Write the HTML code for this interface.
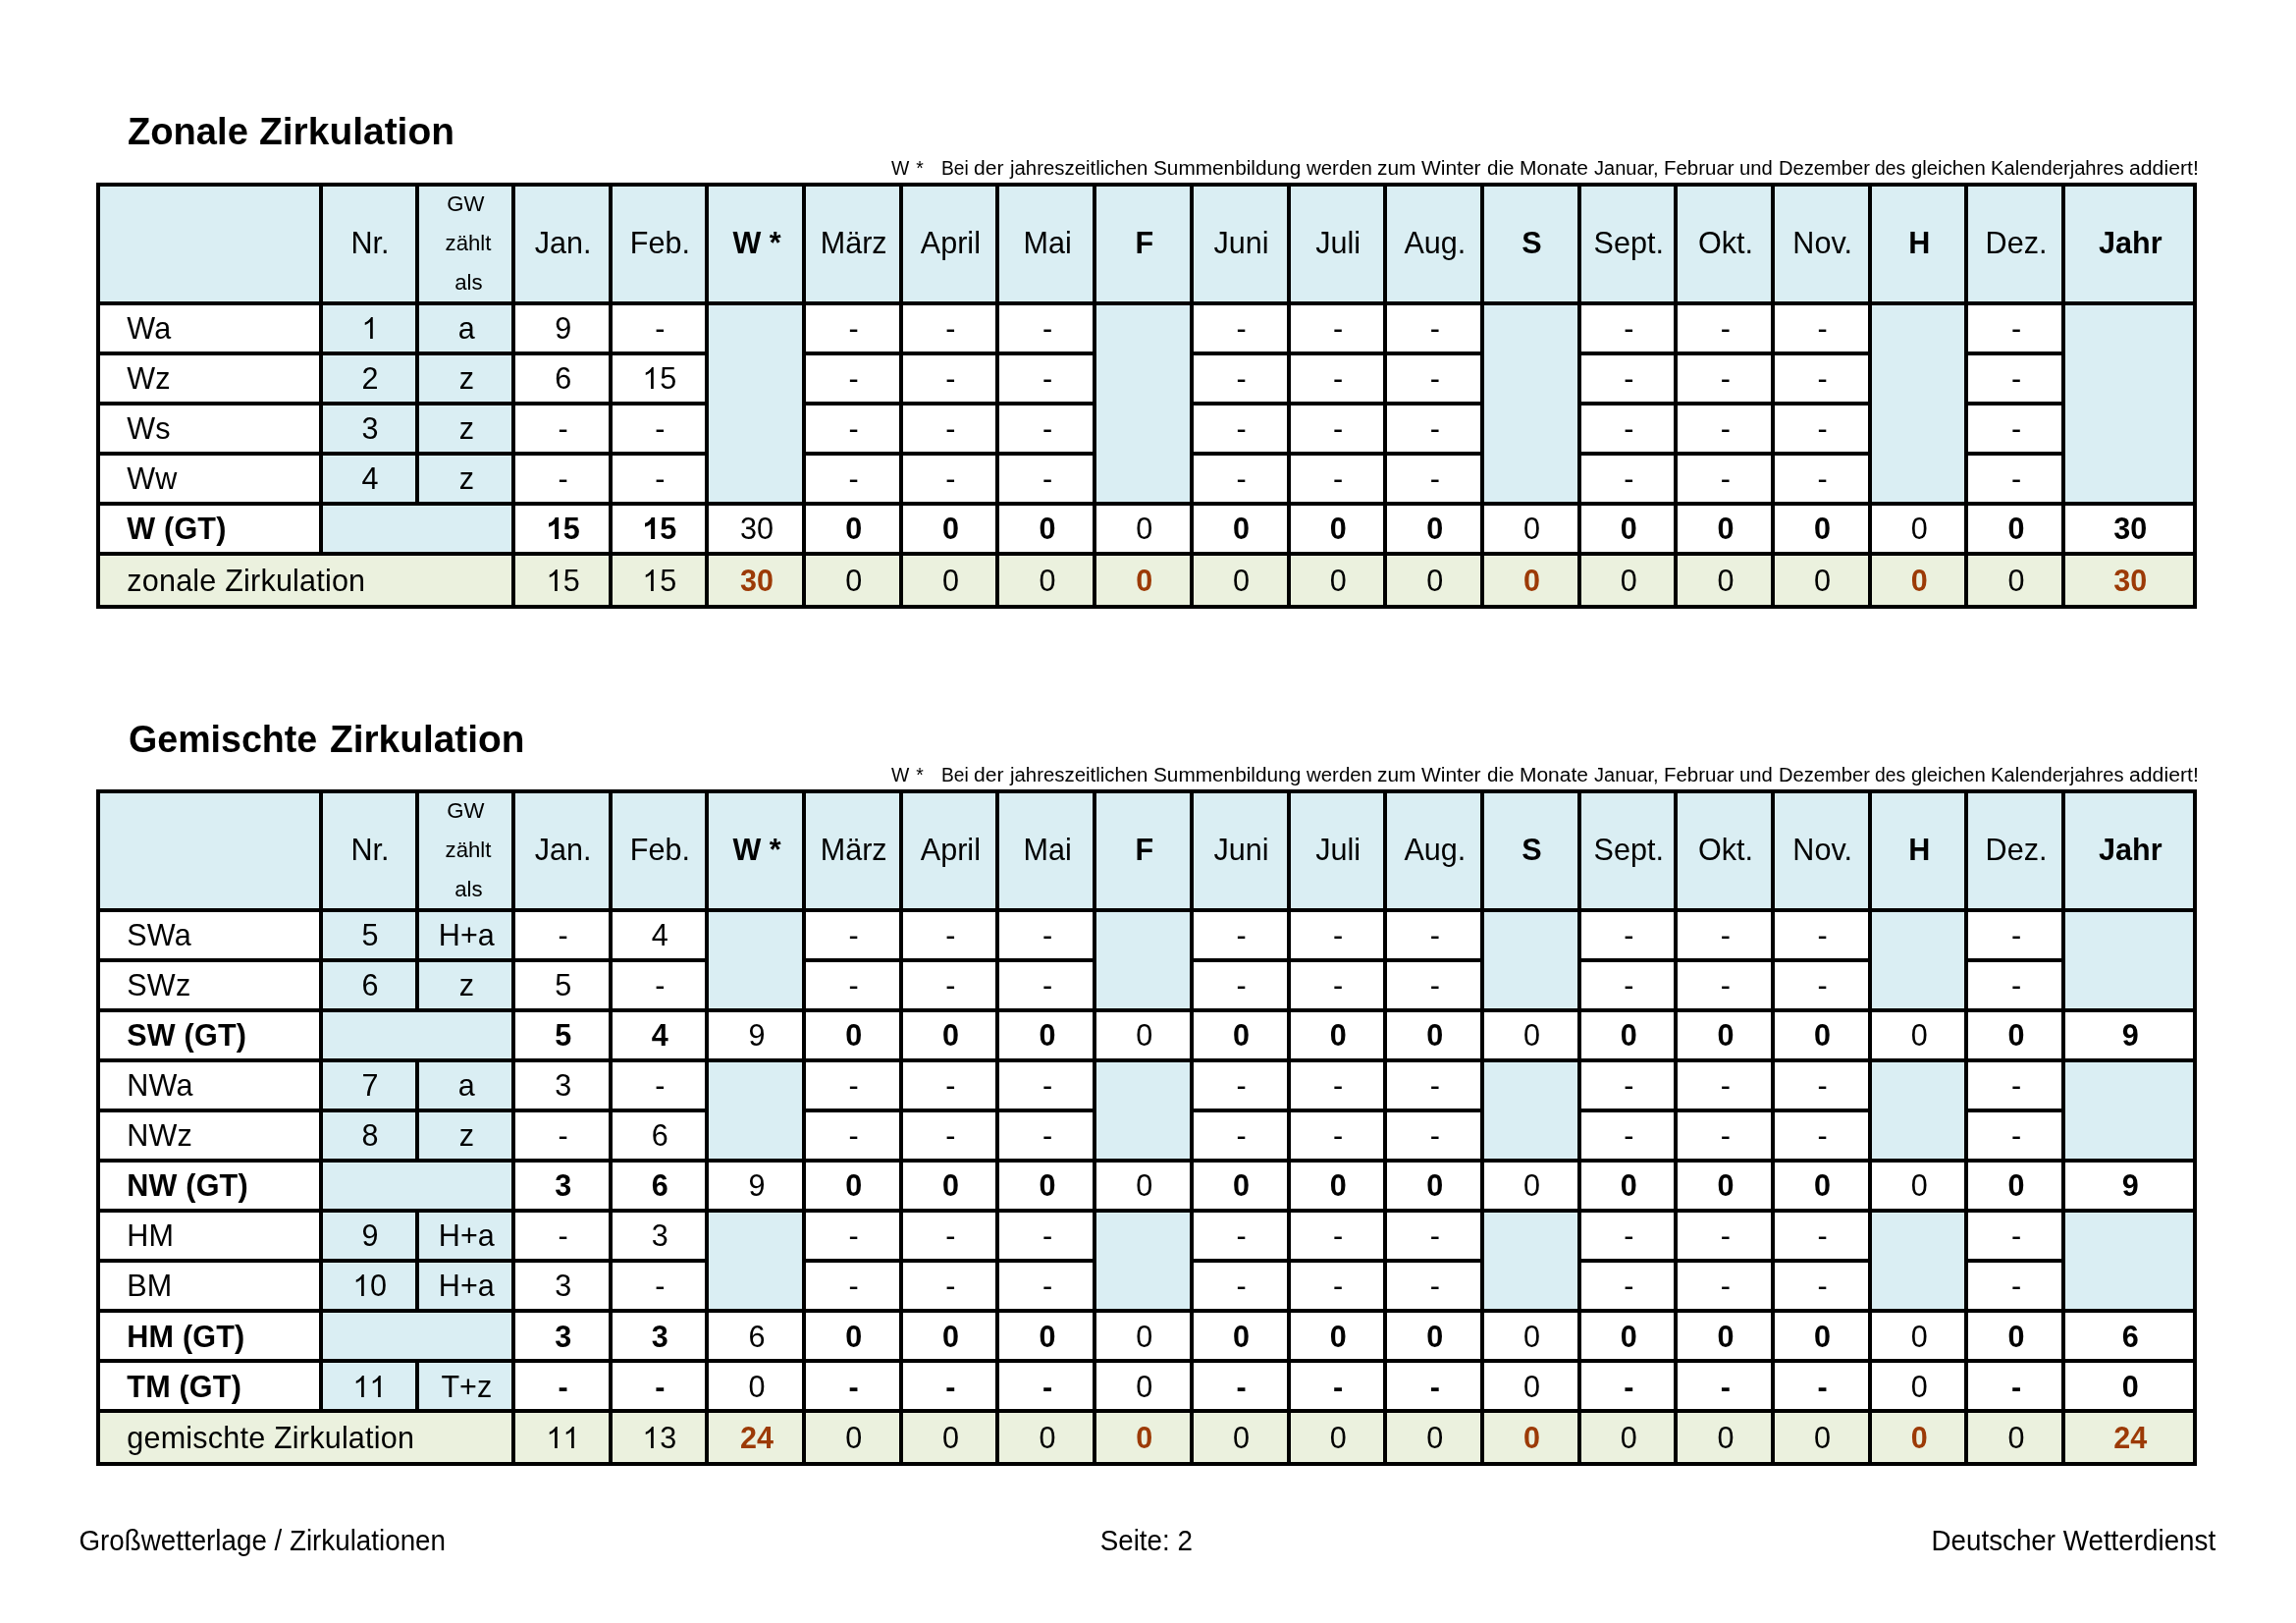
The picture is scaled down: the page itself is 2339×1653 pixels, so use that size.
<!DOCTYPE html>
<html><head><meta charset="utf-8"><title>Großwetterlage / Zirkulationen</title>
<style>
html,body{margin:0;padding:0;background:#fff;}
body{width:2339px;height:1653px;position:relative;overflow:hidden;font-family:"Liberation Sans",sans-serif;color:#000;--nsx:1.0;}
body>div{position:absolute;}
#tx{left:0;top:0;width:2339px;height:1653px;will-change:transform;}
#tx>div{position:absolute;}
.t{white-space:nowrap;}
</style></head><body>
<div style="left:98.00px;top:186.00px;width:230.50px;height:125.00px;background:#DAEEF3"></div>
<div style="left:324.50px;top:186.00px;width:102.50px;height:125.00px;background:#DAEEF3"></div>
<div style="left:423.00px;top:186.00px;width:102.00px;height:125.00px;background:#DAEEF3"></div>
<div style="left:521.00px;top:186.00px;width:102.69px;height:125.00px;background:#DAEEF3"></div>
<div style="left:619.69px;top:186.00px;width:102.69px;height:125.00px;background:#DAEEF3"></div>
<div style="left:718.38px;top:186.00px;width:102.69px;height:125.00px;background:#DAEEF3"></div>
<div style="left:817.07px;top:186.00px;width:102.69px;height:125.00px;background:#DAEEF3"></div>
<div style="left:915.76px;top:186.00px;width:102.69px;height:125.00px;background:#DAEEF3"></div>
<div style="left:1014.45px;top:186.00px;width:102.69px;height:125.00px;background:#DAEEF3"></div>
<div style="left:1113.14px;top:186.00px;width:102.69px;height:125.00px;background:#DAEEF3"></div>
<div style="left:1211.83px;top:186.00px;width:102.69px;height:125.00px;background:#DAEEF3"></div>
<div style="left:1310.52px;top:186.00px;width:102.69px;height:125.00px;background:#DAEEF3"></div>
<div style="left:1409.21px;top:186.00px;width:102.69px;height:125.00px;background:#DAEEF3"></div>
<div style="left:1507.90px;top:186.00px;width:102.69px;height:125.00px;background:#DAEEF3"></div>
<div style="left:1606.59px;top:186.00px;width:102.69px;height:125.00px;background:#DAEEF3"></div>
<div style="left:1705.28px;top:186.00px;width:102.69px;height:125.00px;background:#DAEEF3"></div>
<div style="left:1803.97px;top:186.00px;width:102.69px;height:125.00px;background:#DAEEF3"></div>
<div style="left:1902.66px;top:186.00px;width:102.69px;height:125.00px;background:#DAEEF3"></div>
<div style="left:2001.35px;top:186.00px;width:102.69px;height:125.00px;background:#DAEEF3"></div>
<div style="left:2100.04px;top:186.00px;width:137.96px;height:125.00px;background:#DAEEF3"></div>
<div style="left:324.50px;top:307.00px;width:102.50px;height:55.00px;background:#DAEEF3"></div>
<div style="left:423.00px;top:307.00px;width:102.00px;height:55.00px;background:#DAEEF3"></div>
<div style="left:718.38px;top:307.00px;width:102.69px;height:55.00px;background:#DAEEF3"></div>
<div style="left:1113.14px;top:307.00px;width:102.69px;height:55.00px;background:#DAEEF3"></div>
<div style="left:1507.90px;top:307.00px;width:102.69px;height:55.00px;background:#DAEEF3"></div>
<div style="left:1902.66px;top:307.00px;width:102.69px;height:55.00px;background:#DAEEF3"></div>
<div style="left:2100.04px;top:307.00px;width:137.96px;height:55.00px;background:#DAEEF3"></div>
<div style="left:324.50px;top:358.00px;width:102.50px;height:55.00px;background:#DAEEF3"></div>
<div style="left:423.00px;top:358.00px;width:102.00px;height:55.00px;background:#DAEEF3"></div>
<div style="left:718.38px;top:358.00px;width:102.69px;height:55.00px;background:#DAEEF3"></div>
<div style="left:1113.14px;top:358.00px;width:102.69px;height:55.00px;background:#DAEEF3"></div>
<div style="left:1507.90px;top:358.00px;width:102.69px;height:55.00px;background:#DAEEF3"></div>
<div style="left:1902.66px;top:358.00px;width:102.69px;height:55.00px;background:#DAEEF3"></div>
<div style="left:2100.04px;top:358.00px;width:137.96px;height:55.00px;background:#DAEEF3"></div>
<div style="left:324.50px;top:409.00px;width:102.50px;height:55.00px;background:#DAEEF3"></div>
<div style="left:423.00px;top:409.00px;width:102.00px;height:55.00px;background:#DAEEF3"></div>
<div style="left:718.38px;top:409.00px;width:102.69px;height:55.00px;background:#DAEEF3"></div>
<div style="left:1113.14px;top:409.00px;width:102.69px;height:55.00px;background:#DAEEF3"></div>
<div style="left:1507.90px;top:409.00px;width:102.69px;height:55.00px;background:#DAEEF3"></div>
<div style="left:1902.66px;top:409.00px;width:102.69px;height:55.00px;background:#DAEEF3"></div>
<div style="left:2100.04px;top:409.00px;width:137.96px;height:55.00px;background:#DAEEF3"></div>
<div style="left:324.50px;top:460.00px;width:102.50px;height:55.00px;background:#DAEEF3"></div>
<div style="left:423.00px;top:460.00px;width:102.00px;height:55.00px;background:#DAEEF3"></div>
<div style="left:718.38px;top:460.00px;width:102.69px;height:55.00px;background:#DAEEF3"></div>
<div style="left:1113.14px;top:460.00px;width:102.69px;height:55.00px;background:#DAEEF3"></div>
<div style="left:1507.90px;top:460.00px;width:102.69px;height:55.00px;background:#DAEEF3"></div>
<div style="left:1902.66px;top:460.00px;width:102.69px;height:55.00px;background:#DAEEF3"></div>
<div style="left:2100.04px;top:460.00px;width:137.96px;height:55.00px;background:#DAEEF3"></div>
<div style="left:324.50px;top:511.00px;width:102.50px;height:55.00px;background:#DAEEF3"></div>
<div style="left:423.00px;top:511.00px;width:102.00px;height:55.00px;background:#DAEEF3"></div>
<div style="left:98.00px;top:562.00px;width:230.50px;height:58.00px;background:#EBF1DE"></div>
<div style="left:324.50px;top:562.00px;width:102.50px;height:58.00px;background:#EBF1DE"></div>
<div style="left:423.00px;top:562.00px;width:102.00px;height:58.00px;background:#EBF1DE"></div>
<div style="left:521.00px;top:562.00px;width:102.69px;height:58.00px;background:#EBF1DE"></div>
<div style="left:619.69px;top:562.00px;width:102.69px;height:58.00px;background:#EBF1DE"></div>
<div style="left:718.38px;top:562.00px;width:102.69px;height:58.00px;background:#EBF1DE"></div>
<div style="left:817.07px;top:562.00px;width:102.69px;height:58.00px;background:#EBF1DE"></div>
<div style="left:915.76px;top:562.00px;width:102.69px;height:58.00px;background:#EBF1DE"></div>
<div style="left:1014.45px;top:562.00px;width:102.69px;height:58.00px;background:#EBF1DE"></div>
<div style="left:1113.14px;top:562.00px;width:102.69px;height:58.00px;background:#EBF1DE"></div>
<div style="left:1211.83px;top:562.00px;width:102.69px;height:58.00px;background:#EBF1DE"></div>
<div style="left:1310.52px;top:562.00px;width:102.69px;height:58.00px;background:#EBF1DE"></div>
<div style="left:1409.21px;top:562.00px;width:102.69px;height:58.00px;background:#EBF1DE"></div>
<div style="left:1507.90px;top:562.00px;width:102.69px;height:58.00px;background:#EBF1DE"></div>
<div style="left:1606.59px;top:562.00px;width:102.69px;height:58.00px;background:#EBF1DE"></div>
<div style="left:1705.28px;top:562.00px;width:102.69px;height:58.00px;background:#EBF1DE"></div>
<div style="left:1803.97px;top:562.00px;width:102.69px;height:58.00px;background:#EBF1DE"></div>
<div style="left:1902.66px;top:562.00px;width:102.69px;height:58.00px;background:#EBF1DE"></div>
<div style="left:2001.35px;top:562.00px;width:102.69px;height:58.00px;background:#EBF1DE"></div>
<div style="left:2100.04px;top:562.00px;width:137.96px;height:58.00px;background:#EBF1DE"></div>
<div style="left:98.00px;top:186.00px;width:230.50px;height:4.00px;background:#000"></div>
<div style="left:324.50px;top:186.00px;width:102.50px;height:4.00px;background:#000"></div>
<div style="left:423.00px;top:186.00px;width:102.00px;height:4.00px;background:#000"></div>
<div style="left:521.00px;top:186.00px;width:102.69px;height:4.00px;background:#000"></div>
<div style="left:619.69px;top:186.00px;width:102.69px;height:4.00px;background:#000"></div>
<div style="left:718.38px;top:186.00px;width:102.69px;height:4.00px;background:#000"></div>
<div style="left:817.07px;top:186.00px;width:102.69px;height:4.00px;background:#000"></div>
<div style="left:915.76px;top:186.00px;width:102.69px;height:4.00px;background:#000"></div>
<div style="left:1014.45px;top:186.00px;width:102.69px;height:4.00px;background:#000"></div>
<div style="left:1113.14px;top:186.00px;width:102.69px;height:4.00px;background:#000"></div>
<div style="left:1211.83px;top:186.00px;width:102.69px;height:4.00px;background:#000"></div>
<div style="left:1310.52px;top:186.00px;width:102.69px;height:4.00px;background:#000"></div>
<div style="left:1409.21px;top:186.00px;width:102.69px;height:4.00px;background:#000"></div>
<div style="left:1507.90px;top:186.00px;width:102.69px;height:4.00px;background:#000"></div>
<div style="left:1606.59px;top:186.00px;width:102.69px;height:4.00px;background:#000"></div>
<div style="left:1705.28px;top:186.00px;width:102.69px;height:4.00px;background:#000"></div>
<div style="left:1803.97px;top:186.00px;width:102.69px;height:4.00px;background:#000"></div>
<div style="left:1902.66px;top:186.00px;width:102.69px;height:4.00px;background:#000"></div>
<div style="left:2001.35px;top:186.00px;width:102.69px;height:4.00px;background:#000"></div>
<div style="left:2100.04px;top:186.00px;width:137.96px;height:4.00px;background:#000"></div>
<div style="left:98.00px;top:307.00px;width:230.50px;height:4.00px;background:#000"></div>
<div style="left:324.50px;top:307.00px;width:102.50px;height:4.00px;background:#000"></div>
<div style="left:423.00px;top:307.00px;width:102.00px;height:4.00px;background:#000"></div>
<div style="left:521.00px;top:307.00px;width:102.69px;height:4.00px;background:#000"></div>
<div style="left:619.69px;top:307.00px;width:102.69px;height:4.00px;background:#000"></div>
<div style="left:718.38px;top:307.00px;width:102.69px;height:4.00px;background:#000"></div>
<div style="left:817.07px;top:307.00px;width:102.69px;height:4.00px;background:#000"></div>
<div style="left:915.76px;top:307.00px;width:102.69px;height:4.00px;background:#000"></div>
<div style="left:1014.45px;top:307.00px;width:102.69px;height:4.00px;background:#000"></div>
<div style="left:1113.14px;top:307.00px;width:102.69px;height:4.00px;background:#000"></div>
<div style="left:1211.83px;top:307.00px;width:102.69px;height:4.00px;background:#000"></div>
<div style="left:1310.52px;top:307.00px;width:102.69px;height:4.00px;background:#000"></div>
<div style="left:1409.21px;top:307.00px;width:102.69px;height:4.00px;background:#000"></div>
<div style="left:1507.90px;top:307.00px;width:102.69px;height:4.00px;background:#000"></div>
<div style="left:1606.59px;top:307.00px;width:102.69px;height:4.00px;background:#000"></div>
<div style="left:1705.28px;top:307.00px;width:102.69px;height:4.00px;background:#000"></div>
<div style="left:1803.97px;top:307.00px;width:102.69px;height:4.00px;background:#000"></div>
<div style="left:1902.66px;top:307.00px;width:102.69px;height:4.00px;background:#000"></div>
<div style="left:2001.35px;top:307.00px;width:102.69px;height:4.00px;background:#000"></div>
<div style="left:2100.04px;top:307.00px;width:137.96px;height:4.00px;background:#000"></div>
<div style="left:98.00px;top:358.00px;width:230.50px;height:4.00px;background:#000"></div>
<div style="left:324.50px;top:358.00px;width:102.50px;height:4.00px;background:#000"></div>
<div style="left:423.00px;top:358.00px;width:102.00px;height:4.00px;background:#000"></div>
<div style="left:521.00px;top:358.00px;width:102.69px;height:4.00px;background:#000"></div>
<div style="left:619.69px;top:358.00px;width:102.69px;height:4.00px;background:#000"></div>
<div style="left:817.07px;top:358.00px;width:102.69px;height:4.00px;background:#000"></div>
<div style="left:915.76px;top:358.00px;width:102.69px;height:4.00px;background:#000"></div>
<div style="left:1014.45px;top:358.00px;width:102.69px;height:4.00px;background:#000"></div>
<div style="left:1211.83px;top:358.00px;width:102.69px;height:4.00px;background:#000"></div>
<div style="left:1310.52px;top:358.00px;width:102.69px;height:4.00px;background:#000"></div>
<div style="left:1409.21px;top:358.00px;width:102.69px;height:4.00px;background:#000"></div>
<div style="left:1606.59px;top:358.00px;width:102.69px;height:4.00px;background:#000"></div>
<div style="left:1705.28px;top:358.00px;width:102.69px;height:4.00px;background:#000"></div>
<div style="left:1803.97px;top:358.00px;width:102.69px;height:4.00px;background:#000"></div>
<div style="left:2001.35px;top:358.00px;width:102.69px;height:4.00px;background:#000"></div>
<div style="left:98.00px;top:409.00px;width:230.50px;height:4.00px;background:#000"></div>
<div style="left:324.50px;top:409.00px;width:102.50px;height:4.00px;background:#000"></div>
<div style="left:423.00px;top:409.00px;width:102.00px;height:4.00px;background:#000"></div>
<div style="left:521.00px;top:409.00px;width:102.69px;height:4.00px;background:#000"></div>
<div style="left:619.69px;top:409.00px;width:102.69px;height:4.00px;background:#000"></div>
<div style="left:817.07px;top:409.00px;width:102.69px;height:4.00px;background:#000"></div>
<div style="left:915.76px;top:409.00px;width:102.69px;height:4.00px;background:#000"></div>
<div style="left:1014.45px;top:409.00px;width:102.69px;height:4.00px;background:#000"></div>
<div style="left:1211.83px;top:409.00px;width:102.69px;height:4.00px;background:#000"></div>
<div style="left:1310.52px;top:409.00px;width:102.69px;height:4.00px;background:#000"></div>
<div style="left:1409.21px;top:409.00px;width:102.69px;height:4.00px;background:#000"></div>
<div style="left:1606.59px;top:409.00px;width:102.69px;height:4.00px;background:#000"></div>
<div style="left:1705.28px;top:409.00px;width:102.69px;height:4.00px;background:#000"></div>
<div style="left:1803.97px;top:409.00px;width:102.69px;height:4.00px;background:#000"></div>
<div style="left:2001.35px;top:409.00px;width:102.69px;height:4.00px;background:#000"></div>
<div style="left:98.00px;top:460.00px;width:230.50px;height:4.00px;background:#000"></div>
<div style="left:324.50px;top:460.00px;width:102.50px;height:4.00px;background:#000"></div>
<div style="left:423.00px;top:460.00px;width:102.00px;height:4.00px;background:#000"></div>
<div style="left:521.00px;top:460.00px;width:102.69px;height:4.00px;background:#000"></div>
<div style="left:619.69px;top:460.00px;width:102.69px;height:4.00px;background:#000"></div>
<div style="left:817.07px;top:460.00px;width:102.69px;height:4.00px;background:#000"></div>
<div style="left:915.76px;top:460.00px;width:102.69px;height:4.00px;background:#000"></div>
<div style="left:1014.45px;top:460.00px;width:102.69px;height:4.00px;background:#000"></div>
<div style="left:1211.83px;top:460.00px;width:102.69px;height:4.00px;background:#000"></div>
<div style="left:1310.52px;top:460.00px;width:102.69px;height:4.00px;background:#000"></div>
<div style="left:1409.21px;top:460.00px;width:102.69px;height:4.00px;background:#000"></div>
<div style="left:1606.59px;top:460.00px;width:102.69px;height:4.00px;background:#000"></div>
<div style="left:1705.28px;top:460.00px;width:102.69px;height:4.00px;background:#000"></div>
<div style="left:1803.97px;top:460.00px;width:102.69px;height:4.00px;background:#000"></div>
<div style="left:2001.35px;top:460.00px;width:102.69px;height:4.00px;background:#000"></div>
<div style="left:98.00px;top:511.00px;width:230.50px;height:4.00px;background:#000"></div>
<div style="left:324.50px;top:511.00px;width:102.50px;height:4.00px;background:#000"></div>
<div style="left:423.00px;top:511.00px;width:102.00px;height:4.00px;background:#000"></div>
<div style="left:521.00px;top:511.00px;width:102.69px;height:4.00px;background:#000"></div>
<div style="left:619.69px;top:511.00px;width:102.69px;height:4.00px;background:#000"></div>
<div style="left:718.38px;top:511.00px;width:102.69px;height:4.00px;background:#000"></div>
<div style="left:817.07px;top:511.00px;width:102.69px;height:4.00px;background:#000"></div>
<div style="left:915.76px;top:511.00px;width:102.69px;height:4.00px;background:#000"></div>
<div style="left:1014.45px;top:511.00px;width:102.69px;height:4.00px;background:#000"></div>
<div style="left:1113.14px;top:511.00px;width:102.69px;height:4.00px;background:#000"></div>
<div style="left:1211.83px;top:511.00px;width:102.69px;height:4.00px;background:#000"></div>
<div style="left:1310.52px;top:511.00px;width:102.69px;height:4.00px;background:#000"></div>
<div style="left:1409.21px;top:511.00px;width:102.69px;height:4.00px;background:#000"></div>
<div style="left:1507.90px;top:511.00px;width:102.69px;height:4.00px;background:#000"></div>
<div style="left:1606.59px;top:511.00px;width:102.69px;height:4.00px;background:#000"></div>
<div style="left:1705.28px;top:511.00px;width:102.69px;height:4.00px;background:#000"></div>
<div style="left:1803.97px;top:511.00px;width:102.69px;height:4.00px;background:#000"></div>
<div style="left:1902.66px;top:511.00px;width:102.69px;height:4.00px;background:#000"></div>
<div style="left:2001.35px;top:511.00px;width:102.69px;height:4.00px;background:#000"></div>
<div style="left:2100.04px;top:511.00px;width:137.96px;height:4.00px;background:#000"></div>
<div style="left:98.00px;top:562.00px;width:230.50px;height:4.00px;background:#000"></div>
<div style="left:324.50px;top:562.00px;width:102.50px;height:4.00px;background:#000"></div>
<div style="left:423.00px;top:562.00px;width:102.00px;height:4.00px;background:#000"></div>
<div style="left:521.00px;top:562.00px;width:102.69px;height:4.00px;background:#000"></div>
<div style="left:619.69px;top:562.00px;width:102.69px;height:4.00px;background:#000"></div>
<div style="left:718.38px;top:562.00px;width:102.69px;height:4.00px;background:#000"></div>
<div style="left:817.07px;top:562.00px;width:102.69px;height:4.00px;background:#000"></div>
<div style="left:915.76px;top:562.00px;width:102.69px;height:4.00px;background:#000"></div>
<div style="left:1014.45px;top:562.00px;width:102.69px;height:4.00px;background:#000"></div>
<div style="left:1113.14px;top:562.00px;width:102.69px;height:4.00px;background:#000"></div>
<div style="left:1211.83px;top:562.00px;width:102.69px;height:4.00px;background:#000"></div>
<div style="left:1310.52px;top:562.00px;width:102.69px;height:4.00px;background:#000"></div>
<div style="left:1409.21px;top:562.00px;width:102.69px;height:4.00px;background:#000"></div>
<div style="left:1507.90px;top:562.00px;width:102.69px;height:4.00px;background:#000"></div>
<div style="left:1606.59px;top:562.00px;width:102.69px;height:4.00px;background:#000"></div>
<div style="left:1705.28px;top:562.00px;width:102.69px;height:4.00px;background:#000"></div>
<div style="left:1803.97px;top:562.00px;width:102.69px;height:4.00px;background:#000"></div>
<div style="left:1902.66px;top:562.00px;width:102.69px;height:4.00px;background:#000"></div>
<div style="left:2001.35px;top:562.00px;width:102.69px;height:4.00px;background:#000"></div>
<div style="left:2100.04px;top:562.00px;width:137.96px;height:4.00px;background:#000"></div>
<div style="left:98.00px;top:616.00px;width:230.50px;height:4.00px;background:#000"></div>
<div style="left:324.50px;top:616.00px;width:102.50px;height:4.00px;background:#000"></div>
<div style="left:423.00px;top:616.00px;width:102.00px;height:4.00px;background:#000"></div>
<div style="left:521.00px;top:616.00px;width:102.69px;height:4.00px;background:#000"></div>
<div style="left:619.69px;top:616.00px;width:102.69px;height:4.00px;background:#000"></div>
<div style="left:718.38px;top:616.00px;width:102.69px;height:4.00px;background:#000"></div>
<div style="left:817.07px;top:616.00px;width:102.69px;height:4.00px;background:#000"></div>
<div style="left:915.76px;top:616.00px;width:102.69px;height:4.00px;background:#000"></div>
<div style="left:1014.45px;top:616.00px;width:102.69px;height:4.00px;background:#000"></div>
<div style="left:1113.14px;top:616.00px;width:102.69px;height:4.00px;background:#000"></div>
<div style="left:1211.83px;top:616.00px;width:102.69px;height:4.00px;background:#000"></div>
<div style="left:1310.52px;top:616.00px;width:102.69px;height:4.00px;background:#000"></div>
<div style="left:1409.21px;top:616.00px;width:102.69px;height:4.00px;background:#000"></div>
<div style="left:1507.90px;top:616.00px;width:102.69px;height:4.00px;background:#000"></div>
<div style="left:1606.59px;top:616.00px;width:102.69px;height:4.00px;background:#000"></div>
<div style="left:1705.28px;top:616.00px;width:102.69px;height:4.00px;background:#000"></div>
<div style="left:1803.97px;top:616.00px;width:102.69px;height:4.00px;background:#000"></div>
<div style="left:1902.66px;top:616.00px;width:102.69px;height:4.00px;background:#000"></div>
<div style="left:2001.35px;top:616.00px;width:102.69px;height:4.00px;background:#000"></div>
<div style="left:2100.04px;top:616.00px;width:137.96px;height:4.00px;background:#000"></div>
<div style="left:98.00px;top:186.00px;width:4.00px;height:125.00px;background:#000"></div>
<div style="left:324.50px;top:186.00px;width:4.00px;height:125.00px;background:#000"></div>
<div style="left:423.00px;top:186.00px;width:4.00px;height:125.00px;background:#000"></div>
<div style="left:521.00px;top:186.00px;width:4.00px;height:125.00px;background:#000"></div>
<div style="left:619.69px;top:186.00px;width:4.00px;height:125.00px;background:#000"></div>
<div style="left:718.38px;top:186.00px;width:4.00px;height:125.00px;background:#000"></div>
<div style="left:817.07px;top:186.00px;width:4.00px;height:125.00px;background:#000"></div>
<div style="left:915.76px;top:186.00px;width:4.00px;height:125.00px;background:#000"></div>
<div style="left:1014.45px;top:186.00px;width:4.00px;height:125.00px;background:#000"></div>
<div style="left:1113.14px;top:186.00px;width:4.00px;height:125.00px;background:#000"></div>
<div style="left:1211.83px;top:186.00px;width:4.00px;height:125.00px;background:#000"></div>
<div style="left:1310.52px;top:186.00px;width:4.00px;height:125.00px;background:#000"></div>
<div style="left:1409.21px;top:186.00px;width:4.00px;height:125.00px;background:#000"></div>
<div style="left:1507.90px;top:186.00px;width:4.00px;height:125.00px;background:#000"></div>
<div style="left:1606.59px;top:186.00px;width:4.00px;height:125.00px;background:#000"></div>
<div style="left:1705.28px;top:186.00px;width:4.00px;height:125.00px;background:#000"></div>
<div style="left:1803.97px;top:186.00px;width:4.00px;height:125.00px;background:#000"></div>
<div style="left:1902.66px;top:186.00px;width:4.00px;height:125.00px;background:#000"></div>
<div style="left:2001.35px;top:186.00px;width:4.00px;height:125.00px;background:#000"></div>
<div style="left:2100.04px;top:186.00px;width:4.00px;height:125.00px;background:#000"></div>
<div style="left:2234.00px;top:186.00px;width:4.00px;height:125.00px;background:#000"></div>
<div style="left:98.00px;top:307.00px;width:4.00px;height:55.00px;background:#000"></div>
<div style="left:324.50px;top:307.00px;width:4.00px;height:55.00px;background:#000"></div>
<div style="left:423.00px;top:307.00px;width:4.00px;height:55.00px;background:#000"></div>
<div style="left:521.00px;top:307.00px;width:4.00px;height:55.00px;background:#000"></div>
<div style="left:619.69px;top:307.00px;width:4.00px;height:55.00px;background:#000"></div>
<div style="left:718.38px;top:307.00px;width:4.00px;height:55.00px;background:#000"></div>
<div style="left:817.07px;top:307.00px;width:4.00px;height:55.00px;background:#000"></div>
<div style="left:915.76px;top:307.00px;width:4.00px;height:55.00px;background:#000"></div>
<div style="left:1014.45px;top:307.00px;width:4.00px;height:55.00px;background:#000"></div>
<div style="left:1113.14px;top:307.00px;width:4.00px;height:55.00px;background:#000"></div>
<div style="left:1211.83px;top:307.00px;width:4.00px;height:55.00px;background:#000"></div>
<div style="left:1310.52px;top:307.00px;width:4.00px;height:55.00px;background:#000"></div>
<div style="left:1409.21px;top:307.00px;width:4.00px;height:55.00px;background:#000"></div>
<div style="left:1507.90px;top:307.00px;width:4.00px;height:55.00px;background:#000"></div>
<div style="left:1606.59px;top:307.00px;width:4.00px;height:55.00px;background:#000"></div>
<div style="left:1705.28px;top:307.00px;width:4.00px;height:55.00px;background:#000"></div>
<div style="left:1803.97px;top:307.00px;width:4.00px;height:55.00px;background:#000"></div>
<div style="left:1902.66px;top:307.00px;width:4.00px;height:55.00px;background:#000"></div>
<div style="left:2001.35px;top:307.00px;width:4.00px;height:55.00px;background:#000"></div>
<div style="left:2100.04px;top:307.00px;width:4.00px;height:55.00px;background:#000"></div>
<div style="left:2234.00px;top:307.00px;width:4.00px;height:55.00px;background:#000"></div>
<div style="left:98.00px;top:358.00px;width:4.00px;height:55.00px;background:#000"></div>
<div style="left:324.50px;top:358.00px;width:4.00px;height:55.00px;background:#000"></div>
<div style="left:423.00px;top:358.00px;width:4.00px;height:55.00px;background:#000"></div>
<div style="left:521.00px;top:358.00px;width:4.00px;height:55.00px;background:#000"></div>
<div style="left:619.69px;top:358.00px;width:4.00px;height:55.00px;background:#000"></div>
<div style="left:718.38px;top:358.00px;width:4.00px;height:55.00px;background:#000"></div>
<div style="left:817.07px;top:358.00px;width:4.00px;height:55.00px;background:#000"></div>
<div style="left:915.76px;top:358.00px;width:4.00px;height:55.00px;background:#000"></div>
<div style="left:1014.45px;top:358.00px;width:4.00px;height:55.00px;background:#000"></div>
<div style="left:1113.14px;top:358.00px;width:4.00px;height:55.00px;background:#000"></div>
<div style="left:1211.83px;top:358.00px;width:4.00px;height:55.00px;background:#000"></div>
<div style="left:1310.52px;top:358.00px;width:4.00px;height:55.00px;background:#000"></div>
<div style="left:1409.21px;top:358.00px;width:4.00px;height:55.00px;background:#000"></div>
<div style="left:1507.90px;top:358.00px;width:4.00px;height:55.00px;background:#000"></div>
<div style="left:1606.59px;top:358.00px;width:4.00px;height:55.00px;background:#000"></div>
<div style="left:1705.28px;top:358.00px;width:4.00px;height:55.00px;background:#000"></div>
<div style="left:1803.97px;top:358.00px;width:4.00px;height:55.00px;background:#000"></div>
<div style="left:1902.66px;top:358.00px;width:4.00px;height:55.00px;background:#000"></div>
<div style="left:2001.35px;top:358.00px;width:4.00px;height:55.00px;background:#000"></div>
<div style="left:2100.04px;top:358.00px;width:4.00px;height:55.00px;background:#000"></div>
<div style="left:2234.00px;top:358.00px;width:4.00px;height:55.00px;background:#000"></div>
<div style="left:98.00px;top:409.00px;width:4.00px;height:55.00px;background:#000"></div>
<div style="left:324.50px;top:409.00px;width:4.00px;height:55.00px;background:#000"></div>
<div style="left:423.00px;top:409.00px;width:4.00px;height:55.00px;background:#000"></div>
<div style="left:521.00px;top:409.00px;width:4.00px;height:55.00px;background:#000"></div>
<div style="left:619.69px;top:409.00px;width:4.00px;height:55.00px;background:#000"></div>
<div style="left:718.38px;top:409.00px;width:4.00px;height:55.00px;background:#000"></div>
<div style="left:817.07px;top:409.00px;width:4.00px;height:55.00px;background:#000"></div>
<div style="left:915.76px;top:409.00px;width:4.00px;height:55.00px;background:#000"></div>
<div style="left:1014.45px;top:409.00px;width:4.00px;height:55.00px;background:#000"></div>
<div style="left:1113.14px;top:409.00px;width:4.00px;height:55.00px;background:#000"></div>
<div style="left:1211.83px;top:409.00px;width:4.00px;height:55.00px;background:#000"></div>
<div style="left:1310.52px;top:409.00px;width:4.00px;height:55.00px;background:#000"></div>
<div style="left:1409.21px;top:409.00px;width:4.00px;height:55.00px;background:#000"></div>
<div style="left:1507.90px;top:409.00px;width:4.00px;height:55.00px;background:#000"></div>
<div style="left:1606.59px;top:409.00px;width:4.00px;height:55.00px;background:#000"></div>
<div style="left:1705.28px;top:409.00px;width:4.00px;height:55.00px;background:#000"></div>
<div style="left:1803.97px;top:409.00px;width:4.00px;height:55.00px;background:#000"></div>
<div style="left:1902.66px;top:409.00px;width:4.00px;height:55.00px;background:#000"></div>
<div style="left:2001.35px;top:409.00px;width:4.00px;height:55.00px;background:#000"></div>
<div style="left:2100.04px;top:409.00px;width:4.00px;height:55.00px;background:#000"></div>
<div style="left:2234.00px;top:409.00px;width:4.00px;height:55.00px;background:#000"></div>
<div style="left:98.00px;top:460.00px;width:4.00px;height:55.00px;background:#000"></div>
<div style="left:324.50px;top:460.00px;width:4.00px;height:55.00px;background:#000"></div>
<div style="left:423.00px;top:460.00px;width:4.00px;height:55.00px;background:#000"></div>
<div style="left:521.00px;top:460.00px;width:4.00px;height:55.00px;background:#000"></div>
<div style="left:619.69px;top:460.00px;width:4.00px;height:55.00px;background:#000"></div>
<div style="left:718.38px;top:460.00px;width:4.00px;height:55.00px;background:#000"></div>
<div style="left:817.07px;top:460.00px;width:4.00px;height:55.00px;background:#000"></div>
<div style="left:915.76px;top:460.00px;width:4.00px;height:55.00px;background:#000"></div>
<div style="left:1014.45px;top:460.00px;width:4.00px;height:55.00px;background:#000"></div>
<div style="left:1113.14px;top:460.00px;width:4.00px;height:55.00px;background:#000"></div>
<div style="left:1211.83px;top:460.00px;width:4.00px;height:55.00px;background:#000"></div>
<div style="left:1310.52px;top:460.00px;width:4.00px;height:55.00px;background:#000"></div>
<div style="left:1409.21px;top:460.00px;width:4.00px;height:55.00px;background:#000"></div>
<div style="left:1507.90px;top:460.00px;width:4.00px;height:55.00px;background:#000"></div>
<div style="left:1606.59px;top:460.00px;width:4.00px;height:55.00px;background:#000"></div>
<div style="left:1705.28px;top:460.00px;width:4.00px;height:55.00px;background:#000"></div>
<div style="left:1803.97px;top:460.00px;width:4.00px;height:55.00px;background:#000"></div>
<div style="left:1902.66px;top:460.00px;width:4.00px;height:55.00px;background:#000"></div>
<div style="left:2001.35px;top:460.00px;width:4.00px;height:55.00px;background:#000"></div>
<div style="left:2100.04px;top:460.00px;width:4.00px;height:55.00px;background:#000"></div>
<div style="left:2234.00px;top:460.00px;width:4.00px;height:55.00px;background:#000"></div>
<div style="left:98.00px;top:511.00px;width:4.00px;height:55.00px;background:#000"></div>
<div style="left:324.50px;top:511.00px;width:4.00px;height:55.00px;background:#000"></div>
<div style="left:521.00px;top:511.00px;width:4.00px;height:55.00px;background:#000"></div>
<div style="left:619.69px;top:511.00px;width:4.00px;height:55.00px;background:#000"></div>
<div style="left:718.38px;top:511.00px;width:4.00px;height:55.00px;background:#000"></div>
<div style="left:817.07px;top:511.00px;width:4.00px;height:55.00px;background:#000"></div>
<div style="left:915.76px;top:511.00px;width:4.00px;height:55.00px;background:#000"></div>
<div style="left:1014.45px;top:511.00px;width:4.00px;height:55.00px;background:#000"></div>
<div style="left:1113.14px;top:511.00px;width:4.00px;height:55.00px;background:#000"></div>
<div style="left:1211.83px;top:511.00px;width:4.00px;height:55.00px;background:#000"></div>
<div style="left:1310.52px;top:511.00px;width:4.00px;height:55.00px;background:#000"></div>
<div style="left:1409.21px;top:511.00px;width:4.00px;height:55.00px;background:#000"></div>
<div style="left:1507.90px;top:511.00px;width:4.00px;height:55.00px;background:#000"></div>
<div style="left:1606.59px;top:511.00px;width:4.00px;height:55.00px;background:#000"></div>
<div style="left:1705.28px;top:511.00px;width:4.00px;height:55.00px;background:#000"></div>
<div style="left:1803.97px;top:511.00px;width:4.00px;height:55.00px;background:#000"></div>
<div style="left:1902.66px;top:511.00px;width:4.00px;height:55.00px;background:#000"></div>
<div style="left:2001.35px;top:511.00px;width:4.00px;height:55.00px;background:#000"></div>
<div style="left:2100.04px;top:511.00px;width:4.00px;height:55.00px;background:#000"></div>
<div style="left:2234.00px;top:511.00px;width:4.00px;height:55.00px;background:#000"></div>
<div style="left:98.00px;top:562.00px;width:4.00px;height:58.00px;background:#000"></div>
<div style="left:521.00px;top:562.00px;width:4.00px;height:58.00px;background:#000"></div>
<div style="left:619.69px;top:562.00px;width:4.00px;height:58.00px;background:#000"></div>
<div style="left:718.38px;top:562.00px;width:4.00px;height:58.00px;background:#000"></div>
<div style="left:817.07px;top:562.00px;width:4.00px;height:58.00px;background:#000"></div>
<div style="left:915.76px;top:562.00px;width:4.00px;height:58.00px;background:#000"></div>
<div style="left:1014.45px;top:562.00px;width:4.00px;height:58.00px;background:#000"></div>
<div style="left:1113.14px;top:562.00px;width:4.00px;height:58.00px;background:#000"></div>
<div style="left:1211.83px;top:562.00px;width:4.00px;height:58.00px;background:#000"></div>
<div style="left:1310.52px;top:562.00px;width:4.00px;height:58.00px;background:#000"></div>
<div style="left:1409.21px;top:562.00px;width:4.00px;height:58.00px;background:#000"></div>
<div style="left:1507.90px;top:562.00px;width:4.00px;height:58.00px;background:#000"></div>
<div style="left:1606.59px;top:562.00px;width:4.00px;height:58.00px;background:#000"></div>
<div style="left:1705.28px;top:562.00px;width:4.00px;height:58.00px;background:#000"></div>
<div style="left:1803.97px;top:562.00px;width:4.00px;height:58.00px;background:#000"></div>
<div style="left:1902.66px;top:562.00px;width:4.00px;height:58.00px;background:#000"></div>
<div style="left:2001.35px;top:562.00px;width:4.00px;height:58.00px;background:#000"></div>
<div style="left:2100.04px;top:562.00px;width:4.00px;height:58.00px;background:#000"></div>
<div style="left:2234.00px;top:562.00px;width:4.00px;height:58.00px;background:#000"></div>
<div style="left:98.00px;top:804.00px;width:230.50px;height:125.00px;background:#DAEEF3"></div>
<div style="left:324.50px;top:804.00px;width:102.50px;height:125.00px;background:#DAEEF3"></div>
<div style="left:423.00px;top:804.00px;width:102.00px;height:125.00px;background:#DAEEF3"></div>
<div style="left:521.00px;top:804.00px;width:102.69px;height:125.00px;background:#DAEEF3"></div>
<div style="left:619.69px;top:804.00px;width:102.69px;height:125.00px;background:#DAEEF3"></div>
<div style="left:718.38px;top:804.00px;width:102.69px;height:125.00px;background:#DAEEF3"></div>
<div style="left:817.07px;top:804.00px;width:102.69px;height:125.00px;background:#DAEEF3"></div>
<div style="left:915.76px;top:804.00px;width:102.69px;height:125.00px;background:#DAEEF3"></div>
<div style="left:1014.45px;top:804.00px;width:102.69px;height:125.00px;background:#DAEEF3"></div>
<div style="left:1113.14px;top:804.00px;width:102.69px;height:125.00px;background:#DAEEF3"></div>
<div style="left:1211.83px;top:804.00px;width:102.69px;height:125.00px;background:#DAEEF3"></div>
<div style="left:1310.52px;top:804.00px;width:102.69px;height:125.00px;background:#DAEEF3"></div>
<div style="left:1409.21px;top:804.00px;width:102.69px;height:125.00px;background:#DAEEF3"></div>
<div style="left:1507.90px;top:804.00px;width:102.69px;height:125.00px;background:#DAEEF3"></div>
<div style="left:1606.59px;top:804.00px;width:102.69px;height:125.00px;background:#DAEEF3"></div>
<div style="left:1705.28px;top:804.00px;width:102.69px;height:125.00px;background:#DAEEF3"></div>
<div style="left:1803.97px;top:804.00px;width:102.69px;height:125.00px;background:#DAEEF3"></div>
<div style="left:1902.66px;top:804.00px;width:102.69px;height:125.00px;background:#DAEEF3"></div>
<div style="left:2001.35px;top:804.00px;width:102.69px;height:125.00px;background:#DAEEF3"></div>
<div style="left:2100.04px;top:804.00px;width:137.96px;height:125.00px;background:#DAEEF3"></div>
<div style="left:324.50px;top:925.00px;width:102.50px;height:55.00px;background:#DAEEF3"></div>
<div style="left:423.00px;top:925.00px;width:102.00px;height:55.00px;background:#DAEEF3"></div>
<div style="left:718.38px;top:925.00px;width:102.69px;height:55.00px;background:#DAEEF3"></div>
<div style="left:1113.14px;top:925.00px;width:102.69px;height:55.00px;background:#DAEEF3"></div>
<div style="left:1507.90px;top:925.00px;width:102.69px;height:55.00px;background:#DAEEF3"></div>
<div style="left:1902.66px;top:925.00px;width:102.69px;height:55.00px;background:#DAEEF3"></div>
<div style="left:2100.04px;top:925.00px;width:137.96px;height:55.00px;background:#DAEEF3"></div>
<div style="left:324.50px;top:976.00px;width:102.50px;height:55.00px;background:#DAEEF3"></div>
<div style="left:423.00px;top:976.00px;width:102.00px;height:55.00px;background:#DAEEF3"></div>
<div style="left:718.38px;top:976.00px;width:102.69px;height:55.00px;background:#DAEEF3"></div>
<div style="left:1113.14px;top:976.00px;width:102.69px;height:55.00px;background:#DAEEF3"></div>
<div style="left:1507.90px;top:976.00px;width:102.69px;height:55.00px;background:#DAEEF3"></div>
<div style="left:1902.66px;top:976.00px;width:102.69px;height:55.00px;background:#DAEEF3"></div>
<div style="left:2100.04px;top:976.00px;width:137.96px;height:55.00px;background:#DAEEF3"></div>
<div style="left:324.50px;top:1027.00px;width:102.50px;height:55.00px;background:#DAEEF3"></div>
<div style="left:423.00px;top:1027.00px;width:102.00px;height:55.00px;background:#DAEEF3"></div>
<div style="left:324.50px;top:1078.00px;width:102.50px;height:55.00px;background:#DAEEF3"></div>
<div style="left:423.00px;top:1078.00px;width:102.00px;height:55.00px;background:#DAEEF3"></div>
<div style="left:718.38px;top:1078.00px;width:102.69px;height:55.00px;background:#DAEEF3"></div>
<div style="left:1113.14px;top:1078.00px;width:102.69px;height:55.00px;background:#DAEEF3"></div>
<div style="left:1507.90px;top:1078.00px;width:102.69px;height:55.00px;background:#DAEEF3"></div>
<div style="left:1902.66px;top:1078.00px;width:102.69px;height:55.00px;background:#DAEEF3"></div>
<div style="left:2100.04px;top:1078.00px;width:137.96px;height:55.00px;background:#DAEEF3"></div>
<div style="left:324.50px;top:1129.00px;width:102.50px;height:55.00px;background:#DAEEF3"></div>
<div style="left:423.00px;top:1129.00px;width:102.00px;height:55.00px;background:#DAEEF3"></div>
<div style="left:718.38px;top:1129.00px;width:102.69px;height:55.00px;background:#DAEEF3"></div>
<div style="left:1113.14px;top:1129.00px;width:102.69px;height:55.00px;background:#DAEEF3"></div>
<div style="left:1507.90px;top:1129.00px;width:102.69px;height:55.00px;background:#DAEEF3"></div>
<div style="left:1902.66px;top:1129.00px;width:102.69px;height:55.00px;background:#DAEEF3"></div>
<div style="left:2100.04px;top:1129.00px;width:137.96px;height:55.00px;background:#DAEEF3"></div>
<div style="left:324.50px;top:1180.00px;width:102.50px;height:55.00px;background:#DAEEF3"></div>
<div style="left:423.00px;top:1180.00px;width:102.00px;height:55.00px;background:#DAEEF3"></div>
<div style="left:324.50px;top:1231.00px;width:102.50px;height:55.00px;background:#DAEEF3"></div>
<div style="left:423.00px;top:1231.00px;width:102.00px;height:55.00px;background:#DAEEF3"></div>
<div style="left:718.38px;top:1231.00px;width:102.69px;height:55.00px;background:#DAEEF3"></div>
<div style="left:1113.14px;top:1231.00px;width:102.69px;height:55.00px;background:#DAEEF3"></div>
<div style="left:1507.90px;top:1231.00px;width:102.69px;height:55.00px;background:#DAEEF3"></div>
<div style="left:1902.66px;top:1231.00px;width:102.69px;height:55.00px;background:#DAEEF3"></div>
<div style="left:2100.04px;top:1231.00px;width:137.96px;height:55.00px;background:#DAEEF3"></div>
<div style="left:324.50px;top:1282.00px;width:102.50px;height:55.00px;background:#DAEEF3"></div>
<div style="left:423.00px;top:1282.00px;width:102.00px;height:55.00px;background:#DAEEF3"></div>
<div style="left:718.38px;top:1282.00px;width:102.69px;height:55.00px;background:#DAEEF3"></div>
<div style="left:1113.14px;top:1282.00px;width:102.69px;height:55.00px;background:#DAEEF3"></div>
<div style="left:1507.90px;top:1282.00px;width:102.69px;height:55.00px;background:#DAEEF3"></div>
<div style="left:1902.66px;top:1282.00px;width:102.69px;height:55.00px;background:#DAEEF3"></div>
<div style="left:2100.04px;top:1282.00px;width:137.96px;height:55.00px;background:#DAEEF3"></div>
<div style="left:324.50px;top:1333.00px;width:102.50px;height:55.00px;background:#DAEEF3"></div>
<div style="left:423.00px;top:1333.00px;width:102.00px;height:55.00px;background:#DAEEF3"></div>
<div style="left:324.50px;top:1384.00px;width:102.50px;height:55.00px;background:#DAEEF3"></div>
<div style="left:423.00px;top:1384.00px;width:102.00px;height:55.00px;background:#DAEEF3"></div>
<div style="left:98.00px;top:1435.00px;width:230.50px;height:58.00px;background:#EBF1DE"></div>
<div style="left:324.50px;top:1435.00px;width:102.50px;height:58.00px;background:#EBF1DE"></div>
<div style="left:423.00px;top:1435.00px;width:102.00px;height:58.00px;background:#EBF1DE"></div>
<div style="left:521.00px;top:1435.00px;width:102.69px;height:58.00px;background:#EBF1DE"></div>
<div style="left:619.69px;top:1435.00px;width:102.69px;height:58.00px;background:#EBF1DE"></div>
<div style="left:718.38px;top:1435.00px;width:102.69px;height:58.00px;background:#EBF1DE"></div>
<div style="left:817.07px;top:1435.00px;width:102.69px;height:58.00px;background:#EBF1DE"></div>
<div style="left:915.76px;top:1435.00px;width:102.69px;height:58.00px;background:#EBF1DE"></div>
<div style="left:1014.45px;top:1435.00px;width:102.69px;height:58.00px;background:#EBF1DE"></div>
<div style="left:1113.14px;top:1435.00px;width:102.69px;height:58.00px;background:#EBF1DE"></div>
<div style="left:1211.83px;top:1435.00px;width:102.69px;height:58.00px;background:#EBF1DE"></div>
<div style="left:1310.52px;top:1435.00px;width:102.69px;height:58.00px;background:#EBF1DE"></div>
<div style="left:1409.21px;top:1435.00px;width:102.69px;height:58.00px;background:#EBF1DE"></div>
<div style="left:1507.90px;top:1435.00px;width:102.69px;height:58.00px;background:#EBF1DE"></div>
<div style="left:1606.59px;top:1435.00px;width:102.69px;height:58.00px;background:#EBF1DE"></div>
<div style="left:1705.28px;top:1435.00px;width:102.69px;height:58.00px;background:#EBF1DE"></div>
<div style="left:1803.97px;top:1435.00px;width:102.69px;height:58.00px;background:#EBF1DE"></div>
<div style="left:1902.66px;top:1435.00px;width:102.69px;height:58.00px;background:#EBF1DE"></div>
<div style="left:2001.35px;top:1435.00px;width:102.69px;height:58.00px;background:#EBF1DE"></div>
<div style="left:2100.04px;top:1435.00px;width:137.96px;height:58.00px;background:#EBF1DE"></div>
<div style="left:98.00px;top:804.00px;width:230.50px;height:4.00px;background:#000"></div>
<div style="left:324.50px;top:804.00px;width:102.50px;height:4.00px;background:#000"></div>
<div style="left:423.00px;top:804.00px;width:102.00px;height:4.00px;background:#000"></div>
<div style="left:521.00px;top:804.00px;width:102.69px;height:4.00px;background:#000"></div>
<div style="left:619.69px;top:804.00px;width:102.69px;height:4.00px;background:#000"></div>
<div style="left:718.38px;top:804.00px;width:102.69px;height:4.00px;background:#000"></div>
<div style="left:817.07px;top:804.00px;width:102.69px;height:4.00px;background:#000"></div>
<div style="left:915.76px;top:804.00px;width:102.69px;height:4.00px;background:#000"></div>
<div style="left:1014.45px;top:804.00px;width:102.69px;height:4.00px;background:#000"></div>
<div style="left:1113.14px;top:804.00px;width:102.69px;height:4.00px;background:#000"></div>
<div style="left:1211.83px;top:804.00px;width:102.69px;height:4.00px;background:#000"></div>
<div style="left:1310.52px;top:804.00px;width:102.69px;height:4.00px;background:#000"></div>
<div style="left:1409.21px;top:804.00px;width:102.69px;height:4.00px;background:#000"></div>
<div style="left:1507.90px;top:804.00px;width:102.69px;height:4.00px;background:#000"></div>
<div style="left:1606.59px;top:804.00px;width:102.69px;height:4.00px;background:#000"></div>
<div style="left:1705.28px;top:804.00px;width:102.69px;height:4.00px;background:#000"></div>
<div style="left:1803.97px;top:804.00px;width:102.69px;height:4.00px;background:#000"></div>
<div style="left:1902.66px;top:804.00px;width:102.69px;height:4.00px;background:#000"></div>
<div style="left:2001.35px;top:804.00px;width:102.69px;height:4.00px;background:#000"></div>
<div style="left:2100.04px;top:804.00px;width:137.96px;height:4.00px;background:#000"></div>
<div style="left:98.00px;top:925.00px;width:230.50px;height:4.00px;background:#000"></div>
<div style="left:324.50px;top:925.00px;width:102.50px;height:4.00px;background:#000"></div>
<div style="left:423.00px;top:925.00px;width:102.00px;height:4.00px;background:#000"></div>
<div style="left:521.00px;top:925.00px;width:102.69px;height:4.00px;background:#000"></div>
<div style="left:619.69px;top:925.00px;width:102.69px;height:4.00px;background:#000"></div>
<div style="left:718.38px;top:925.00px;width:102.69px;height:4.00px;background:#000"></div>
<div style="left:817.07px;top:925.00px;width:102.69px;height:4.00px;background:#000"></div>
<div style="left:915.76px;top:925.00px;width:102.69px;height:4.00px;background:#000"></div>
<div style="left:1014.45px;top:925.00px;width:102.69px;height:4.00px;background:#000"></div>
<div style="left:1113.14px;top:925.00px;width:102.69px;height:4.00px;background:#000"></div>
<div style="left:1211.83px;top:925.00px;width:102.69px;height:4.00px;background:#000"></div>
<div style="left:1310.52px;top:925.00px;width:102.69px;height:4.00px;background:#000"></div>
<div style="left:1409.21px;top:925.00px;width:102.69px;height:4.00px;background:#000"></div>
<div style="left:1507.90px;top:925.00px;width:102.69px;height:4.00px;background:#000"></div>
<div style="left:1606.59px;top:925.00px;width:102.69px;height:4.00px;background:#000"></div>
<div style="left:1705.28px;top:925.00px;width:102.69px;height:4.00px;background:#000"></div>
<div style="left:1803.97px;top:925.00px;width:102.69px;height:4.00px;background:#000"></div>
<div style="left:1902.66px;top:925.00px;width:102.69px;height:4.00px;background:#000"></div>
<div style="left:2001.35px;top:925.00px;width:102.69px;height:4.00px;background:#000"></div>
<div style="left:2100.04px;top:925.00px;width:137.96px;height:4.00px;background:#000"></div>
<div style="left:98.00px;top:976.00px;width:230.50px;height:4.00px;background:#000"></div>
<div style="left:324.50px;top:976.00px;width:102.50px;height:4.00px;background:#000"></div>
<div style="left:423.00px;top:976.00px;width:102.00px;height:4.00px;background:#000"></div>
<div style="left:521.00px;top:976.00px;width:102.69px;height:4.00px;background:#000"></div>
<div style="left:619.69px;top:976.00px;width:102.69px;height:4.00px;background:#000"></div>
<div style="left:817.07px;top:976.00px;width:102.69px;height:4.00px;background:#000"></div>
<div style="left:915.76px;top:976.00px;width:102.69px;height:4.00px;background:#000"></div>
<div style="left:1014.45px;top:976.00px;width:102.69px;height:4.00px;background:#000"></div>
<div style="left:1211.83px;top:976.00px;width:102.69px;height:4.00px;background:#000"></div>
<div style="left:1310.52px;top:976.00px;width:102.69px;height:4.00px;background:#000"></div>
<div style="left:1409.21px;top:976.00px;width:102.69px;height:4.00px;background:#000"></div>
<div style="left:1606.59px;top:976.00px;width:102.69px;height:4.00px;background:#000"></div>
<div style="left:1705.28px;top:976.00px;width:102.69px;height:4.00px;background:#000"></div>
<div style="left:1803.97px;top:976.00px;width:102.69px;height:4.00px;background:#000"></div>
<div style="left:2001.35px;top:976.00px;width:102.69px;height:4.00px;background:#000"></div>
<div style="left:98.00px;top:1027.00px;width:230.50px;height:4.00px;background:#000"></div>
<div style="left:324.50px;top:1027.00px;width:102.50px;height:4.00px;background:#000"></div>
<div style="left:423.00px;top:1027.00px;width:102.00px;height:4.00px;background:#000"></div>
<div style="left:521.00px;top:1027.00px;width:102.69px;height:4.00px;background:#000"></div>
<div style="left:619.69px;top:1027.00px;width:102.69px;height:4.00px;background:#000"></div>
<div style="left:718.38px;top:1027.00px;width:102.69px;height:4.00px;background:#000"></div>
<div style="left:817.07px;top:1027.00px;width:102.69px;height:4.00px;background:#000"></div>
<div style="left:915.76px;top:1027.00px;width:102.69px;height:4.00px;background:#000"></div>
<div style="left:1014.45px;top:1027.00px;width:102.69px;height:4.00px;background:#000"></div>
<div style="left:1113.14px;top:1027.00px;width:102.69px;height:4.00px;background:#000"></div>
<div style="left:1211.83px;top:1027.00px;width:102.69px;height:4.00px;background:#000"></div>
<div style="left:1310.52px;top:1027.00px;width:102.69px;height:4.00px;background:#000"></div>
<div style="left:1409.21px;top:1027.00px;width:102.69px;height:4.00px;background:#000"></div>
<div style="left:1507.90px;top:1027.00px;width:102.69px;height:4.00px;background:#000"></div>
<div style="left:1606.59px;top:1027.00px;width:102.69px;height:4.00px;background:#000"></div>
<div style="left:1705.28px;top:1027.00px;width:102.69px;height:4.00px;background:#000"></div>
<div style="left:1803.97px;top:1027.00px;width:102.69px;height:4.00px;background:#000"></div>
<div style="left:1902.66px;top:1027.00px;width:102.69px;height:4.00px;background:#000"></div>
<div style="left:2001.35px;top:1027.00px;width:102.69px;height:4.00px;background:#000"></div>
<div style="left:2100.04px;top:1027.00px;width:137.96px;height:4.00px;background:#000"></div>
<div style="left:98.00px;top:1078.00px;width:230.50px;height:4.00px;background:#000"></div>
<div style="left:324.50px;top:1078.00px;width:102.50px;height:4.00px;background:#000"></div>
<div style="left:423.00px;top:1078.00px;width:102.00px;height:4.00px;background:#000"></div>
<div style="left:521.00px;top:1078.00px;width:102.69px;height:4.00px;background:#000"></div>
<div style="left:619.69px;top:1078.00px;width:102.69px;height:4.00px;background:#000"></div>
<div style="left:718.38px;top:1078.00px;width:102.69px;height:4.00px;background:#000"></div>
<div style="left:817.07px;top:1078.00px;width:102.69px;height:4.00px;background:#000"></div>
<div style="left:915.76px;top:1078.00px;width:102.69px;height:4.00px;background:#000"></div>
<div style="left:1014.45px;top:1078.00px;width:102.69px;height:4.00px;background:#000"></div>
<div style="left:1113.14px;top:1078.00px;width:102.69px;height:4.00px;background:#000"></div>
<div style="left:1211.83px;top:1078.00px;width:102.69px;height:4.00px;background:#000"></div>
<div style="left:1310.52px;top:1078.00px;width:102.69px;height:4.00px;background:#000"></div>
<div style="left:1409.21px;top:1078.00px;width:102.69px;height:4.00px;background:#000"></div>
<div style="left:1507.90px;top:1078.00px;width:102.69px;height:4.00px;background:#000"></div>
<div style="left:1606.59px;top:1078.00px;width:102.69px;height:4.00px;background:#000"></div>
<div style="left:1705.28px;top:1078.00px;width:102.69px;height:4.00px;background:#000"></div>
<div style="left:1803.97px;top:1078.00px;width:102.69px;height:4.00px;background:#000"></div>
<div style="left:1902.66px;top:1078.00px;width:102.69px;height:4.00px;background:#000"></div>
<div style="left:2001.35px;top:1078.00px;width:102.69px;height:4.00px;background:#000"></div>
<div style="left:2100.04px;top:1078.00px;width:137.96px;height:4.00px;background:#000"></div>
<div style="left:98.00px;top:1129.00px;width:230.50px;height:4.00px;background:#000"></div>
<div style="left:324.50px;top:1129.00px;width:102.50px;height:4.00px;background:#000"></div>
<div style="left:423.00px;top:1129.00px;width:102.00px;height:4.00px;background:#000"></div>
<div style="left:521.00px;top:1129.00px;width:102.69px;height:4.00px;background:#000"></div>
<div style="left:619.69px;top:1129.00px;width:102.69px;height:4.00px;background:#000"></div>
<div style="left:817.07px;top:1129.00px;width:102.69px;height:4.00px;background:#000"></div>
<div style="left:915.76px;top:1129.00px;width:102.69px;height:4.00px;background:#000"></div>
<div style="left:1014.45px;top:1129.00px;width:102.69px;height:4.00px;background:#000"></div>
<div style="left:1211.83px;top:1129.00px;width:102.69px;height:4.00px;background:#000"></div>
<div style="left:1310.52px;top:1129.00px;width:102.69px;height:4.00px;background:#000"></div>
<div style="left:1409.21px;top:1129.00px;width:102.69px;height:4.00px;background:#000"></div>
<div style="left:1606.59px;top:1129.00px;width:102.69px;height:4.00px;background:#000"></div>
<div style="left:1705.28px;top:1129.00px;width:102.69px;height:4.00px;background:#000"></div>
<div style="left:1803.97px;top:1129.00px;width:102.69px;height:4.00px;background:#000"></div>
<div style="left:2001.35px;top:1129.00px;width:102.69px;height:4.00px;background:#000"></div>
<div style="left:98.00px;top:1180.00px;width:230.50px;height:4.00px;background:#000"></div>
<div style="left:324.50px;top:1180.00px;width:102.50px;height:4.00px;background:#000"></div>
<div style="left:423.00px;top:1180.00px;width:102.00px;height:4.00px;background:#000"></div>
<div style="left:521.00px;top:1180.00px;width:102.69px;height:4.00px;background:#000"></div>
<div style="left:619.69px;top:1180.00px;width:102.69px;height:4.00px;background:#000"></div>
<div style="left:718.38px;top:1180.00px;width:102.69px;height:4.00px;background:#000"></div>
<div style="left:817.07px;top:1180.00px;width:102.69px;height:4.00px;background:#000"></div>
<div style="left:915.76px;top:1180.00px;width:102.69px;height:4.00px;background:#000"></div>
<div style="left:1014.45px;top:1180.00px;width:102.69px;height:4.00px;background:#000"></div>
<div style="left:1113.14px;top:1180.00px;width:102.69px;height:4.00px;background:#000"></div>
<div style="left:1211.83px;top:1180.00px;width:102.69px;height:4.00px;background:#000"></div>
<div style="left:1310.52px;top:1180.00px;width:102.69px;height:4.00px;background:#000"></div>
<div style="left:1409.21px;top:1180.00px;width:102.69px;height:4.00px;background:#000"></div>
<div style="left:1507.90px;top:1180.00px;width:102.69px;height:4.00px;background:#000"></div>
<div style="left:1606.59px;top:1180.00px;width:102.69px;height:4.00px;background:#000"></div>
<div style="left:1705.28px;top:1180.00px;width:102.69px;height:4.00px;background:#000"></div>
<div style="left:1803.97px;top:1180.00px;width:102.69px;height:4.00px;background:#000"></div>
<div style="left:1902.66px;top:1180.00px;width:102.69px;height:4.00px;background:#000"></div>
<div style="left:2001.35px;top:1180.00px;width:102.69px;height:4.00px;background:#000"></div>
<div style="left:2100.04px;top:1180.00px;width:137.96px;height:4.00px;background:#000"></div>
<div style="left:98.00px;top:1231.00px;width:230.50px;height:4.00px;background:#000"></div>
<div style="left:324.50px;top:1231.00px;width:102.50px;height:4.00px;background:#000"></div>
<div style="left:423.00px;top:1231.00px;width:102.00px;height:4.00px;background:#000"></div>
<div style="left:521.00px;top:1231.00px;width:102.69px;height:4.00px;background:#000"></div>
<div style="left:619.69px;top:1231.00px;width:102.69px;height:4.00px;background:#000"></div>
<div style="left:718.38px;top:1231.00px;width:102.69px;height:4.00px;background:#000"></div>
<div style="left:817.07px;top:1231.00px;width:102.69px;height:4.00px;background:#000"></div>
<div style="left:915.76px;top:1231.00px;width:102.69px;height:4.00px;background:#000"></div>
<div style="left:1014.45px;top:1231.00px;width:102.69px;height:4.00px;background:#000"></div>
<div style="left:1113.14px;top:1231.00px;width:102.69px;height:4.00px;background:#000"></div>
<div style="left:1211.83px;top:1231.00px;width:102.69px;height:4.00px;background:#000"></div>
<div style="left:1310.52px;top:1231.00px;width:102.69px;height:4.00px;background:#000"></div>
<div style="left:1409.21px;top:1231.00px;width:102.69px;height:4.00px;background:#000"></div>
<div style="left:1507.90px;top:1231.00px;width:102.69px;height:4.00px;background:#000"></div>
<div style="left:1606.59px;top:1231.00px;width:102.69px;height:4.00px;background:#000"></div>
<div style="left:1705.28px;top:1231.00px;width:102.69px;height:4.00px;background:#000"></div>
<div style="left:1803.97px;top:1231.00px;width:102.69px;height:4.00px;background:#000"></div>
<div style="left:1902.66px;top:1231.00px;width:102.69px;height:4.00px;background:#000"></div>
<div style="left:2001.35px;top:1231.00px;width:102.69px;height:4.00px;background:#000"></div>
<div style="left:2100.04px;top:1231.00px;width:137.96px;height:4.00px;background:#000"></div>
<div style="left:98.00px;top:1282.00px;width:230.50px;height:4.00px;background:#000"></div>
<div style="left:324.50px;top:1282.00px;width:102.50px;height:4.00px;background:#000"></div>
<div style="left:423.00px;top:1282.00px;width:102.00px;height:4.00px;background:#000"></div>
<div style="left:521.00px;top:1282.00px;width:102.69px;height:4.00px;background:#000"></div>
<div style="left:619.69px;top:1282.00px;width:102.69px;height:4.00px;background:#000"></div>
<div style="left:817.07px;top:1282.00px;width:102.69px;height:4.00px;background:#000"></div>
<div style="left:915.76px;top:1282.00px;width:102.69px;height:4.00px;background:#000"></div>
<div style="left:1014.45px;top:1282.00px;width:102.69px;height:4.00px;background:#000"></div>
<div style="left:1211.83px;top:1282.00px;width:102.69px;height:4.00px;background:#000"></div>
<div style="left:1310.52px;top:1282.00px;width:102.69px;height:4.00px;background:#000"></div>
<div style="left:1409.21px;top:1282.00px;width:102.69px;height:4.00px;background:#000"></div>
<div style="left:1606.59px;top:1282.00px;width:102.69px;height:4.00px;background:#000"></div>
<div style="left:1705.28px;top:1282.00px;width:102.69px;height:4.00px;background:#000"></div>
<div style="left:1803.97px;top:1282.00px;width:102.69px;height:4.00px;background:#000"></div>
<div style="left:2001.35px;top:1282.00px;width:102.69px;height:4.00px;background:#000"></div>
<div style="left:98.00px;top:1333.00px;width:230.50px;height:4.00px;background:#000"></div>
<div style="left:324.50px;top:1333.00px;width:102.50px;height:4.00px;background:#000"></div>
<div style="left:423.00px;top:1333.00px;width:102.00px;height:4.00px;background:#000"></div>
<div style="left:521.00px;top:1333.00px;width:102.69px;height:4.00px;background:#000"></div>
<div style="left:619.69px;top:1333.00px;width:102.69px;height:4.00px;background:#000"></div>
<div style="left:718.38px;top:1333.00px;width:102.69px;height:4.00px;background:#000"></div>
<div style="left:817.07px;top:1333.00px;width:102.69px;height:4.00px;background:#000"></div>
<div style="left:915.76px;top:1333.00px;width:102.69px;height:4.00px;background:#000"></div>
<div style="left:1014.45px;top:1333.00px;width:102.69px;height:4.00px;background:#000"></div>
<div style="left:1113.14px;top:1333.00px;width:102.69px;height:4.00px;background:#000"></div>
<div style="left:1211.83px;top:1333.00px;width:102.69px;height:4.00px;background:#000"></div>
<div style="left:1310.52px;top:1333.00px;width:102.69px;height:4.00px;background:#000"></div>
<div style="left:1409.21px;top:1333.00px;width:102.69px;height:4.00px;background:#000"></div>
<div style="left:1507.90px;top:1333.00px;width:102.69px;height:4.00px;background:#000"></div>
<div style="left:1606.59px;top:1333.00px;width:102.69px;height:4.00px;background:#000"></div>
<div style="left:1705.28px;top:1333.00px;width:102.69px;height:4.00px;background:#000"></div>
<div style="left:1803.97px;top:1333.00px;width:102.69px;height:4.00px;background:#000"></div>
<div style="left:1902.66px;top:1333.00px;width:102.69px;height:4.00px;background:#000"></div>
<div style="left:2001.35px;top:1333.00px;width:102.69px;height:4.00px;background:#000"></div>
<div style="left:2100.04px;top:1333.00px;width:137.96px;height:4.00px;background:#000"></div>
<div style="left:98.00px;top:1384.00px;width:230.50px;height:4.00px;background:#000"></div>
<div style="left:324.50px;top:1384.00px;width:102.50px;height:4.00px;background:#000"></div>
<div style="left:423.00px;top:1384.00px;width:102.00px;height:4.00px;background:#000"></div>
<div style="left:521.00px;top:1384.00px;width:102.69px;height:4.00px;background:#000"></div>
<div style="left:619.69px;top:1384.00px;width:102.69px;height:4.00px;background:#000"></div>
<div style="left:718.38px;top:1384.00px;width:102.69px;height:4.00px;background:#000"></div>
<div style="left:817.07px;top:1384.00px;width:102.69px;height:4.00px;background:#000"></div>
<div style="left:915.76px;top:1384.00px;width:102.69px;height:4.00px;background:#000"></div>
<div style="left:1014.45px;top:1384.00px;width:102.69px;height:4.00px;background:#000"></div>
<div style="left:1113.14px;top:1384.00px;width:102.69px;height:4.00px;background:#000"></div>
<div style="left:1211.83px;top:1384.00px;width:102.69px;height:4.00px;background:#000"></div>
<div style="left:1310.52px;top:1384.00px;width:102.69px;height:4.00px;background:#000"></div>
<div style="left:1409.21px;top:1384.00px;width:102.69px;height:4.00px;background:#000"></div>
<div style="left:1507.90px;top:1384.00px;width:102.69px;height:4.00px;background:#000"></div>
<div style="left:1606.59px;top:1384.00px;width:102.69px;height:4.00px;background:#000"></div>
<div style="left:1705.28px;top:1384.00px;width:102.69px;height:4.00px;background:#000"></div>
<div style="left:1803.97px;top:1384.00px;width:102.69px;height:4.00px;background:#000"></div>
<div style="left:1902.66px;top:1384.00px;width:102.69px;height:4.00px;background:#000"></div>
<div style="left:2001.35px;top:1384.00px;width:102.69px;height:4.00px;background:#000"></div>
<div style="left:2100.04px;top:1384.00px;width:137.96px;height:4.00px;background:#000"></div>
<div style="left:98.00px;top:1435.00px;width:230.50px;height:4.00px;background:#000"></div>
<div style="left:324.50px;top:1435.00px;width:102.50px;height:4.00px;background:#000"></div>
<div style="left:423.00px;top:1435.00px;width:102.00px;height:4.00px;background:#000"></div>
<div style="left:521.00px;top:1435.00px;width:102.69px;height:4.00px;background:#000"></div>
<div style="left:619.69px;top:1435.00px;width:102.69px;height:4.00px;background:#000"></div>
<div style="left:718.38px;top:1435.00px;width:102.69px;height:4.00px;background:#000"></div>
<div style="left:817.07px;top:1435.00px;width:102.69px;height:4.00px;background:#000"></div>
<div style="left:915.76px;top:1435.00px;width:102.69px;height:4.00px;background:#000"></div>
<div style="left:1014.45px;top:1435.00px;width:102.69px;height:4.00px;background:#000"></div>
<div style="left:1113.14px;top:1435.00px;width:102.69px;height:4.00px;background:#000"></div>
<div style="left:1211.83px;top:1435.00px;width:102.69px;height:4.00px;background:#000"></div>
<div style="left:1310.52px;top:1435.00px;width:102.69px;height:4.00px;background:#000"></div>
<div style="left:1409.21px;top:1435.00px;width:102.69px;height:4.00px;background:#000"></div>
<div style="left:1507.90px;top:1435.00px;width:102.69px;height:4.00px;background:#000"></div>
<div style="left:1606.59px;top:1435.00px;width:102.69px;height:4.00px;background:#000"></div>
<div style="left:1705.28px;top:1435.00px;width:102.69px;height:4.00px;background:#000"></div>
<div style="left:1803.97px;top:1435.00px;width:102.69px;height:4.00px;background:#000"></div>
<div style="left:1902.66px;top:1435.00px;width:102.69px;height:4.00px;background:#000"></div>
<div style="left:2001.35px;top:1435.00px;width:102.69px;height:4.00px;background:#000"></div>
<div style="left:2100.04px;top:1435.00px;width:137.96px;height:4.00px;background:#000"></div>
<div style="left:98.00px;top:1489.00px;width:230.50px;height:4.00px;background:#000"></div>
<div style="left:324.50px;top:1489.00px;width:102.50px;height:4.00px;background:#000"></div>
<div style="left:423.00px;top:1489.00px;width:102.00px;height:4.00px;background:#000"></div>
<div style="left:521.00px;top:1489.00px;width:102.69px;height:4.00px;background:#000"></div>
<div style="left:619.69px;top:1489.00px;width:102.69px;height:4.00px;background:#000"></div>
<div style="left:718.38px;top:1489.00px;width:102.69px;height:4.00px;background:#000"></div>
<div style="left:817.07px;top:1489.00px;width:102.69px;height:4.00px;background:#000"></div>
<div style="left:915.76px;top:1489.00px;width:102.69px;height:4.00px;background:#000"></div>
<div style="left:1014.45px;top:1489.00px;width:102.69px;height:4.00px;background:#000"></div>
<div style="left:1113.14px;top:1489.00px;width:102.69px;height:4.00px;background:#000"></div>
<div style="left:1211.83px;top:1489.00px;width:102.69px;height:4.00px;background:#000"></div>
<div style="left:1310.52px;top:1489.00px;width:102.69px;height:4.00px;background:#000"></div>
<div style="left:1409.21px;top:1489.00px;width:102.69px;height:4.00px;background:#000"></div>
<div style="left:1507.90px;top:1489.00px;width:102.69px;height:4.00px;background:#000"></div>
<div style="left:1606.59px;top:1489.00px;width:102.69px;height:4.00px;background:#000"></div>
<div style="left:1705.28px;top:1489.00px;width:102.69px;height:4.00px;background:#000"></div>
<div style="left:1803.97px;top:1489.00px;width:102.69px;height:4.00px;background:#000"></div>
<div style="left:1902.66px;top:1489.00px;width:102.69px;height:4.00px;background:#000"></div>
<div style="left:2001.35px;top:1489.00px;width:102.69px;height:4.00px;background:#000"></div>
<div style="left:2100.04px;top:1489.00px;width:137.96px;height:4.00px;background:#000"></div>
<div style="left:98.00px;top:804.00px;width:4.00px;height:125.00px;background:#000"></div>
<div style="left:324.50px;top:804.00px;width:4.00px;height:125.00px;background:#000"></div>
<div style="left:423.00px;top:804.00px;width:4.00px;height:125.00px;background:#000"></div>
<div style="left:521.00px;top:804.00px;width:4.00px;height:125.00px;background:#000"></div>
<div style="left:619.69px;top:804.00px;width:4.00px;height:125.00px;background:#000"></div>
<div style="left:718.38px;top:804.00px;width:4.00px;height:125.00px;background:#000"></div>
<div style="left:817.07px;top:804.00px;width:4.00px;height:125.00px;background:#000"></div>
<div style="left:915.76px;top:804.00px;width:4.00px;height:125.00px;background:#000"></div>
<div style="left:1014.45px;top:804.00px;width:4.00px;height:125.00px;background:#000"></div>
<div style="left:1113.14px;top:804.00px;width:4.00px;height:125.00px;background:#000"></div>
<div style="left:1211.83px;top:804.00px;width:4.00px;height:125.00px;background:#000"></div>
<div style="left:1310.52px;top:804.00px;width:4.00px;height:125.00px;background:#000"></div>
<div style="left:1409.21px;top:804.00px;width:4.00px;height:125.00px;background:#000"></div>
<div style="left:1507.90px;top:804.00px;width:4.00px;height:125.00px;background:#000"></div>
<div style="left:1606.59px;top:804.00px;width:4.00px;height:125.00px;background:#000"></div>
<div style="left:1705.28px;top:804.00px;width:4.00px;height:125.00px;background:#000"></div>
<div style="left:1803.97px;top:804.00px;width:4.00px;height:125.00px;background:#000"></div>
<div style="left:1902.66px;top:804.00px;width:4.00px;height:125.00px;background:#000"></div>
<div style="left:2001.35px;top:804.00px;width:4.00px;height:125.00px;background:#000"></div>
<div style="left:2100.04px;top:804.00px;width:4.00px;height:125.00px;background:#000"></div>
<div style="left:2234.00px;top:804.00px;width:4.00px;height:125.00px;background:#000"></div>
<div style="left:98.00px;top:925.00px;width:4.00px;height:55.00px;background:#000"></div>
<div style="left:324.50px;top:925.00px;width:4.00px;height:55.00px;background:#000"></div>
<div style="left:423.00px;top:925.00px;width:4.00px;height:55.00px;background:#000"></div>
<div style="left:521.00px;top:925.00px;width:4.00px;height:55.00px;background:#000"></div>
<div style="left:619.69px;top:925.00px;width:4.00px;height:55.00px;background:#000"></div>
<div style="left:718.38px;top:925.00px;width:4.00px;height:55.00px;background:#000"></div>
<div style="left:817.07px;top:925.00px;width:4.00px;height:55.00px;background:#000"></div>
<div style="left:915.76px;top:925.00px;width:4.00px;height:55.00px;background:#000"></div>
<div style="left:1014.45px;top:925.00px;width:4.00px;height:55.00px;background:#000"></div>
<div style="left:1113.14px;top:925.00px;width:4.00px;height:55.00px;background:#000"></div>
<div style="left:1211.83px;top:925.00px;width:4.00px;height:55.00px;background:#000"></div>
<div style="left:1310.52px;top:925.00px;width:4.00px;height:55.00px;background:#000"></div>
<div style="left:1409.21px;top:925.00px;width:4.00px;height:55.00px;background:#000"></div>
<div style="left:1507.90px;top:925.00px;width:4.00px;height:55.00px;background:#000"></div>
<div style="left:1606.59px;top:925.00px;width:4.00px;height:55.00px;background:#000"></div>
<div style="left:1705.28px;top:925.00px;width:4.00px;height:55.00px;background:#000"></div>
<div style="left:1803.97px;top:925.00px;width:4.00px;height:55.00px;background:#000"></div>
<div style="left:1902.66px;top:925.00px;width:4.00px;height:55.00px;background:#000"></div>
<div style="left:2001.35px;top:925.00px;width:4.00px;height:55.00px;background:#000"></div>
<div style="left:2100.04px;top:925.00px;width:4.00px;height:55.00px;background:#000"></div>
<div style="left:2234.00px;top:925.00px;width:4.00px;height:55.00px;background:#000"></div>
<div style="left:98.00px;top:976.00px;width:4.00px;height:55.00px;background:#000"></div>
<div style="left:324.50px;top:976.00px;width:4.00px;height:55.00px;background:#000"></div>
<div style="left:423.00px;top:976.00px;width:4.00px;height:55.00px;background:#000"></div>
<div style="left:521.00px;top:976.00px;width:4.00px;height:55.00px;background:#000"></div>
<div style="left:619.69px;top:976.00px;width:4.00px;height:55.00px;background:#000"></div>
<div style="left:718.38px;top:976.00px;width:4.00px;height:55.00px;background:#000"></div>
<div style="left:817.07px;top:976.00px;width:4.00px;height:55.00px;background:#000"></div>
<div style="left:915.76px;top:976.00px;width:4.00px;height:55.00px;background:#000"></div>
<div style="left:1014.45px;top:976.00px;width:4.00px;height:55.00px;background:#000"></div>
<div style="left:1113.14px;top:976.00px;width:4.00px;height:55.00px;background:#000"></div>
<div style="left:1211.83px;top:976.00px;width:4.00px;height:55.00px;background:#000"></div>
<div style="left:1310.52px;top:976.00px;width:4.00px;height:55.00px;background:#000"></div>
<div style="left:1409.21px;top:976.00px;width:4.00px;height:55.00px;background:#000"></div>
<div style="left:1507.90px;top:976.00px;width:4.00px;height:55.00px;background:#000"></div>
<div style="left:1606.59px;top:976.00px;width:4.00px;height:55.00px;background:#000"></div>
<div style="left:1705.28px;top:976.00px;width:4.00px;height:55.00px;background:#000"></div>
<div style="left:1803.97px;top:976.00px;width:4.00px;height:55.00px;background:#000"></div>
<div style="left:1902.66px;top:976.00px;width:4.00px;height:55.00px;background:#000"></div>
<div style="left:2001.35px;top:976.00px;width:4.00px;height:55.00px;background:#000"></div>
<div style="left:2100.04px;top:976.00px;width:4.00px;height:55.00px;background:#000"></div>
<div style="left:2234.00px;top:976.00px;width:4.00px;height:55.00px;background:#000"></div>
<div style="left:98.00px;top:1027.00px;width:4.00px;height:55.00px;background:#000"></div>
<div style="left:324.50px;top:1027.00px;width:4.00px;height:55.00px;background:#000"></div>
<div style="left:521.00px;top:1027.00px;width:4.00px;height:55.00px;background:#000"></div>
<div style="left:619.69px;top:1027.00px;width:4.00px;height:55.00px;background:#000"></div>
<div style="left:718.38px;top:1027.00px;width:4.00px;height:55.00px;background:#000"></div>
<div style="left:817.07px;top:1027.00px;width:4.00px;height:55.00px;background:#000"></div>
<div style="left:915.76px;top:1027.00px;width:4.00px;height:55.00px;background:#000"></div>
<div style="left:1014.45px;top:1027.00px;width:4.00px;height:55.00px;background:#000"></div>
<div style="left:1113.14px;top:1027.00px;width:4.00px;height:55.00px;background:#000"></div>
<div style="left:1211.83px;top:1027.00px;width:4.00px;height:55.00px;background:#000"></div>
<div style="left:1310.52px;top:1027.00px;width:4.00px;height:55.00px;background:#000"></div>
<div style="left:1409.21px;top:1027.00px;width:4.00px;height:55.00px;background:#000"></div>
<div style="left:1507.90px;top:1027.00px;width:4.00px;height:55.00px;background:#000"></div>
<div style="left:1606.59px;top:1027.00px;width:4.00px;height:55.00px;background:#000"></div>
<div style="left:1705.28px;top:1027.00px;width:4.00px;height:55.00px;background:#000"></div>
<div style="left:1803.97px;top:1027.00px;width:4.00px;height:55.00px;background:#000"></div>
<div style="left:1902.66px;top:1027.00px;width:4.00px;height:55.00px;background:#000"></div>
<div style="left:2001.35px;top:1027.00px;width:4.00px;height:55.00px;background:#000"></div>
<div style="left:2100.04px;top:1027.00px;width:4.00px;height:55.00px;background:#000"></div>
<div style="left:2234.00px;top:1027.00px;width:4.00px;height:55.00px;background:#000"></div>
<div style="left:98.00px;top:1078.00px;width:4.00px;height:55.00px;background:#000"></div>
<div style="left:324.50px;top:1078.00px;width:4.00px;height:55.00px;background:#000"></div>
<div style="left:423.00px;top:1078.00px;width:4.00px;height:55.00px;background:#000"></div>
<div style="left:521.00px;top:1078.00px;width:4.00px;height:55.00px;background:#000"></div>
<div style="left:619.69px;top:1078.00px;width:4.00px;height:55.00px;background:#000"></div>
<div style="left:718.38px;top:1078.00px;width:4.00px;height:55.00px;background:#000"></div>
<div style="left:817.07px;top:1078.00px;width:4.00px;height:55.00px;background:#000"></div>
<div style="left:915.76px;top:1078.00px;width:4.00px;height:55.00px;background:#000"></div>
<div style="left:1014.45px;top:1078.00px;width:4.00px;height:55.00px;background:#000"></div>
<div style="left:1113.14px;top:1078.00px;width:4.00px;height:55.00px;background:#000"></div>
<div style="left:1211.83px;top:1078.00px;width:4.00px;height:55.00px;background:#000"></div>
<div style="left:1310.52px;top:1078.00px;width:4.00px;height:55.00px;background:#000"></div>
<div style="left:1409.21px;top:1078.00px;width:4.00px;height:55.00px;background:#000"></div>
<div style="left:1507.90px;top:1078.00px;width:4.00px;height:55.00px;background:#000"></div>
<div style="left:1606.59px;top:1078.00px;width:4.00px;height:55.00px;background:#000"></div>
<div style="left:1705.28px;top:1078.00px;width:4.00px;height:55.00px;background:#000"></div>
<div style="left:1803.97px;top:1078.00px;width:4.00px;height:55.00px;background:#000"></div>
<div style="left:1902.66px;top:1078.00px;width:4.00px;height:55.00px;background:#000"></div>
<div style="left:2001.35px;top:1078.00px;width:4.00px;height:55.00px;background:#000"></div>
<div style="left:2100.04px;top:1078.00px;width:4.00px;height:55.00px;background:#000"></div>
<div style="left:2234.00px;top:1078.00px;width:4.00px;height:55.00px;background:#000"></div>
<div style="left:98.00px;top:1129.00px;width:4.00px;height:55.00px;background:#000"></div>
<div style="left:324.50px;top:1129.00px;width:4.00px;height:55.00px;background:#000"></div>
<div style="left:423.00px;top:1129.00px;width:4.00px;height:55.00px;background:#000"></div>
<div style="left:521.00px;top:1129.00px;width:4.00px;height:55.00px;background:#000"></div>
<div style="left:619.69px;top:1129.00px;width:4.00px;height:55.00px;background:#000"></div>
<div style="left:718.38px;top:1129.00px;width:4.00px;height:55.00px;background:#000"></div>
<div style="left:817.07px;top:1129.00px;width:4.00px;height:55.00px;background:#000"></div>
<div style="left:915.76px;top:1129.00px;width:4.00px;height:55.00px;background:#000"></div>
<div style="left:1014.45px;top:1129.00px;width:4.00px;height:55.00px;background:#000"></div>
<div style="left:1113.14px;top:1129.00px;width:4.00px;height:55.00px;background:#000"></div>
<div style="left:1211.83px;top:1129.00px;width:4.00px;height:55.00px;background:#000"></div>
<div style="left:1310.52px;top:1129.00px;width:4.00px;height:55.00px;background:#000"></div>
<div style="left:1409.21px;top:1129.00px;width:4.00px;height:55.00px;background:#000"></div>
<div style="left:1507.90px;top:1129.00px;width:4.00px;height:55.00px;background:#000"></div>
<div style="left:1606.59px;top:1129.00px;width:4.00px;height:55.00px;background:#000"></div>
<div style="left:1705.28px;top:1129.00px;width:4.00px;height:55.00px;background:#000"></div>
<div style="left:1803.97px;top:1129.00px;width:4.00px;height:55.00px;background:#000"></div>
<div style="left:1902.66px;top:1129.00px;width:4.00px;height:55.00px;background:#000"></div>
<div style="left:2001.35px;top:1129.00px;width:4.00px;height:55.00px;background:#000"></div>
<div style="left:2100.04px;top:1129.00px;width:4.00px;height:55.00px;background:#000"></div>
<div style="left:2234.00px;top:1129.00px;width:4.00px;height:55.00px;background:#000"></div>
<div style="left:98.00px;top:1180.00px;width:4.00px;height:55.00px;background:#000"></div>
<div style="left:324.50px;top:1180.00px;width:4.00px;height:55.00px;background:#000"></div>
<div style="left:521.00px;top:1180.00px;width:4.00px;height:55.00px;background:#000"></div>
<div style="left:619.69px;top:1180.00px;width:4.00px;height:55.00px;background:#000"></div>
<div style="left:718.38px;top:1180.00px;width:4.00px;height:55.00px;background:#000"></div>
<div style="left:817.07px;top:1180.00px;width:4.00px;height:55.00px;background:#000"></div>
<div style="left:915.76px;top:1180.00px;width:4.00px;height:55.00px;background:#000"></div>
<div style="left:1014.45px;top:1180.00px;width:4.00px;height:55.00px;background:#000"></div>
<div style="left:1113.14px;top:1180.00px;width:4.00px;height:55.00px;background:#000"></div>
<div style="left:1211.83px;top:1180.00px;width:4.00px;height:55.00px;background:#000"></div>
<div style="left:1310.52px;top:1180.00px;width:4.00px;height:55.00px;background:#000"></div>
<div style="left:1409.21px;top:1180.00px;width:4.00px;height:55.00px;background:#000"></div>
<div style="left:1507.90px;top:1180.00px;width:4.00px;height:55.00px;background:#000"></div>
<div style="left:1606.59px;top:1180.00px;width:4.00px;height:55.00px;background:#000"></div>
<div style="left:1705.28px;top:1180.00px;width:4.00px;height:55.00px;background:#000"></div>
<div style="left:1803.97px;top:1180.00px;width:4.00px;height:55.00px;background:#000"></div>
<div style="left:1902.66px;top:1180.00px;width:4.00px;height:55.00px;background:#000"></div>
<div style="left:2001.35px;top:1180.00px;width:4.00px;height:55.00px;background:#000"></div>
<div style="left:2100.04px;top:1180.00px;width:4.00px;height:55.00px;background:#000"></div>
<div style="left:2234.00px;top:1180.00px;width:4.00px;height:55.00px;background:#000"></div>
<div style="left:98.00px;top:1231.00px;width:4.00px;height:55.00px;background:#000"></div>
<div style="left:324.50px;top:1231.00px;width:4.00px;height:55.00px;background:#000"></div>
<div style="left:423.00px;top:1231.00px;width:4.00px;height:55.00px;background:#000"></div>
<div style="left:521.00px;top:1231.00px;width:4.00px;height:55.00px;background:#000"></div>
<div style="left:619.69px;top:1231.00px;width:4.00px;height:55.00px;background:#000"></div>
<div style="left:718.38px;top:1231.00px;width:4.00px;height:55.00px;background:#000"></div>
<div style="left:817.07px;top:1231.00px;width:4.00px;height:55.00px;background:#000"></div>
<div style="left:915.76px;top:1231.00px;width:4.00px;height:55.00px;background:#000"></div>
<div style="left:1014.45px;top:1231.00px;width:4.00px;height:55.00px;background:#000"></div>
<div style="left:1113.14px;top:1231.00px;width:4.00px;height:55.00px;background:#000"></div>
<div style="left:1211.83px;top:1231.00px;width:4.00px;height:55.00px;background:#000"></div>
<div style="left:1310.52px;top:1231.00px;width:4.00px;height:55.00px;background:#000"></div>
<div style="left:1409.21px;top:1231.00px;width:4.00px;height:55.00px;background:#000"></div>
<div style="left:1507.90px;top:1231.00px;width:4.00px;height:55.00px;background:#000"></div>
<div style="left:1606.59px;top:1231.00px;width:4.00px;height:55.00px;background:#000"></div>
<div style="left:1705.28px;top:1231.00px;width:4.00px;height:55.00px;background:#000"></div>
<div style="left:1803.97px;top:1231.00px;width:4.00px;height:55.00px;background:#000"></div>
<div style="left:1902.66px;top:1231.00px;width:4.00px;height:55.00px;background:#000"></div>
<div style="left:2001.35px;top:1231.00px;width:4.00px;height:55.00px;background:#000"></div>
<div style="left:2100.04px;top:1231.00px;width:4.00px;height:55.00px;background:#000"></div>
<div style="left:2234.00px;top:1231.00px;width:4.00px;height:55.00px;background:#000"></div>
<div style="left:98.00px;top:1282.00px;width:4.00px;height:55.00px;background:#000"></div>
<div style="left:324.50px;top:1282.00px;width:4.00px;height:55.00px;background:#000"></div>
<div style="left:423.00px;top:1282.00px;width:4.00px;height:55.00px;background:#000"></div>
<div style="left:521.00px;top:1282.00px;width:4.00px;height:55.00px;background:#000"></div>
<div style="left:619.69px;top:1282.00px;width:4.00px;height:55.00px;background:#000"></div>
<div style="left:718.38px;top:1282.00px;width:4.00px;height:55.00px;background:#000"></div>
<div style="left:817.07px;top:1282.00px;width:4.00px;height:55.00px;background:#000"></div>
<div style="left:915.76px;top:1282.00px;width:4.00px;height:55.00px;background:#000"></div>
<div style="left:1014.45px;top:1282.00px;width:4.00px;height:55.00px;background:#000"></div>
<div style="left:1113.14px;top:1282.00px;width:4.00px;height:55.00px;background:#000"></div>
<div style="left:1211.83px;top:1282.00px;width:4.00px;height:55.00px;background:#000"></div>
<div style="left:1310.52px;top:1282.00px;width:4.00px;height:55.00px;background:#000"></div>
<div style="left:1409.21px;top:1282.00px;width:4.00px;height:55.00px;background:#000"></div>
<div style="left:1507.90px;top:1282.00px;width:4.00px;height:55.00px;background:#000"></div>
<div style="left:1606.59px;top:1282.00px;width:4.00px;height:55.00px;background:#000"></div>
<div style="left:1705.28px;top:1282.00px;width:4.00px;height:55.00px;background:#000"></div>
<div style="left:1803.97px;top:1282.00px;width:4.00px;height:55.00px;background:#000"></div>
<div style="left:1902.66px;top:1282.00px;width:4.00px;height:55.00px;background:#000"></div>
<div style="left:2001.35px;top:1282.00px;width:4.00px;height:55.00px;background:#000"></div>
<div style="left:2100.04px;top:1282.00px;width:4.00px;height:55.00px;background:#000"></div>
<div style="left:2234.00px;top:1282.00px;width:4.00px;height:55.00px;background:#000"></div>
<div style="left:98.00px;top:1333.00px;width:4.00px;height:55.00px;background:#000"></div>
<div style="left:324.50px;top:1333.00px;width:4.00px;height:55.00px;background:#000"></div>
<div style="left:521.00px;top:1333.00px;width:4.00px;height:55.00px;background:#000"></div>
<div style="left:619.69px;top:1333.00px;width:4.00px;height:55.00px;background:#000"></div>
<div style="left:718.38px;top:1333.00px;width:4.00px;height:55.00px;background:#000"></div>
<div style="left:817.07px;top:1333.00px;width:4.00px;height:55.00px;background:#000"></div>
<div style="left:915.76px;top:1333.00px;width:4.00px;height:55.00px;background:#000"></div>
<div style="left:1014.45px;top:1333.00px;width:4.00px;height:55.00px;background:#000"></div>
<div style="left:1113.14px;top:1333.00px;width:4.00px;height:55.00px;background:#000"></div>
<div style="left:1211.83px;top:1333.00px;width:4.00px;height:55.00px;background:#000"></div>
<div style="left:1310.52px;top:1333.00px;width:4.00px;height:55.00px;background:#000"></div>
<div style="left:1409.21px;top:1333.00px;width:4.00px;height:55.00px;background:#000"></div>
<div style="left:1507.90px;top:1333.00px;width:4.00px;height:55.00px;background:#000"></div>
<div style="left:1606.59px;top:1333.00px;width:4.00px;height:55.00px;background:#000"></div>
<div style="left:1705.28px;top:1333.00px;width:4.00px;height:55.00px;background:#000"></div>
<div style="left:1803.97px;top:1333.00px;width:4.00px;height:55.00px;background:#000"></div>
<div style="left:1902.66px;top:1333.00px;width:4.00px;height:55.00px;background:#000"></div>
<div style="left:2001.35px;top:1333.00px;width:4.00px;height:55.00px;background:#000"></div>
<div style="left:2100.04px;top:1333.00px;width:4.00px;height:55.00px;background:#000"></div>
<div style="left:2234.00px;top:1333.00px;width:4.00px;height:55.00px;background:#000"></div>
<div style="left:98.00px;top:1384.00px;width:4.00px;height:55.00px;background:#000"></div>
<div style="left:324.50px;top:1384.00px;width:4.00px;height:55.00px;background:#000"></div>
<div style="left:423.00px;top:1384.00px;width:4.00px;height:55.00px;background:#000"></div>
<div style="left:521.00px;top:1384.00px;width:4.00px;height:55.00px;background:#000"></div>
<div style="left:619.69px;top:1384.00px;width:4.00px;height:55.00px;background:#000"></div>
<div style="left:718.38px;top:1384.00px;width:4.00px;height:55.00px;background:#000"></div>
<div style="left:817.07px;top:1384.00px;width:4.00px;height:55.00px;background:#000"></div>
<div style="left:915.76px;top:1384.00px;width:4.00px;height:55.00px;background:#000"></div>
<div style="left:1014.45px;top:1384.00px;width:4.00px;height:55.00px;background:#000"></div>
<div style="left:1113.14px;top:1384.00px;width:4.00px;height:55.00px;background:#000"></div>
<div style="left:1211.83px;top:1384.00px;width:4.00px;height:55.00px;background:#000"></div>
<div style="left:1310.52px;top:1384.00px;width:4.00px;height:55.00px;background:#000"></div>
<div style="left:1409.21px;top:1384.00px;width:4.00px;height:55.00px;background:#000"></div>
<div style="left:1507.90px;top:1384.00px;width:4.00px;height:55.00px;background:#000"></div>
<div style="left:1606.59px;top:1384.00px;width:4.00px;height:55.00px;background:#000"></div>
<div style="left:1705.28px;top:1384.00px;width:4.00px;height:55.00px;background:#000"></div>
<div style="left:1803.97px;top:1384.00px;width:4.00px;height:55.00px;background:#000"></div>
<div style="left:1902.66px;top:1384.00px;width:4.00px;height:55.00px;background:#000"></div>
<div style="left:2001.35px;top:1384.00px;width:4.00px;height:55.00px;background:#000"></div>
<div style="left:2100.04px;top:1384.00px;width:4.00px;height:55.00px;background:#000"></div>
<div style="left:2234.00px;top:1384.00px;width:4.00px;height:55.00px;background:#000"></div>
<div style="left:98.00px;top:1435.00px;width:4.00px;height:58.00px;background:#000"></div>
<div style="left:521.00px;top:1435.00px;width:4.00px;height:58.00px;background:#000"></div>
<div style="left:619.69px;top:1435.00px;width:4.00px;height:58.00px;background:#000"></div>
<div style="left:718.38px;top:1435.00px;width:4.00px;height:58.00px;background:#000"></div>
<div style="left:817.07px;top:1435.00px;width:4.00px;height:58.00px;background:#000"></div>
<div style="left:915.76px;top:1435.00px;width:4.00px;height:58.00px;background:#000"></div>
<div style="left:1014.45px;top:1435.00px;width:4.00px;height:58.00px;background:#000"></div>
<div style="left:1113.14px;top:1435.00px;width:4.00px;height:58.00px;background:#000"></div>
<div style="left:1211.83px;top:1435.00px;width:4.00px;height:58.00px;background:#000"></div>
<div style="left:1310.52px;top:1435.00px;width:4.00px;height:58.00px;background:#000"></div>
<div style="left:1409.21px;top:1435.00px;width:4.00px;height:58.00px;background:#000"></div>
<div style="left:1507.90px;top:1435.00px;width:4.00px;height:58.00px;background:#000"></div>
<div style="left:1606.59px;top:1435.00px;width:4.00px;height:58.00px;background:#000"></div>
<div style="left:1705.28px;top:1435.00px;width:4.00px;height:58.00px;background:#000"></div>
<div style="left:1803.97px;top:1435.00px;width:4.00px;height:58.00px;background:#000"></div>
<div style="left:1902.66px;top:1435.00px;width:4.00px;height:58.00px;background:#000"></div>
<div style="left:2001.35px;top:1435.00px;width:4.00px;height:58.00px;background:#000"></div>
<div style="left:2100.04px;top:1435.00px;width:4.00px;height:58.00px;background:#000"></div>
<div style="left:2234.00px;top:1435.00px;width:4.00px;height:58.00px;background:#000"></div>
<div id="tx">
<div class="t" style="left:129.71px;top:112.75px;line-height:42.89px;font-size:38.4px;white-space:pre;font-weight:bold;transform-origin:0 0;transform:scaleX(0.9929)">Zonale</div>
<div class="t" style="left:263.99px;top:112.75px;line-height:42.89px;font-size:38.4px;white-space:pre;font-weight:bold;transform-origin:0 0;transform:scaleX(1.0141)">Zirkulation</div>
<div class="t" style="left:908.00px;top:161.24px;line-height:21.67px;font-size:19.4px;white-space:pre">W</div>
<div class="t" style="left:933.30px;top:161.24px;line-height:21.67px;font-size:19.4px;white-space:pre">*</div>
<div class="t" style="left:959.11px;top:161.24px;line-height:21.67px;font-size:19.4px;white-space:pre;transform-origin:0 0;transform:scaleX(0.9903)">Bei</div>
<div class="t" style="left:992.20px;top:161.24px;line-height:21.67px;font-size:19.4px;white-space:pre;transform-origin:0 0;transform:scaleX(1.0891)">der</div>
<div class="t" style="left:1028.55px;top:161.24px;line-height:21.67px;font-size:19.4px;white-space:pre;transform-origin:0 0;transform:scaleX(1.0504)">jahreszeitlichen</div>
<div class="t" style="left:1174.60px;top:161.24px;line-height:21.67px;font-size:19.4px;white-space:pre;transform-origin:0 0;transform:scaleX(1.0719)">Summenbildung</div>
<div class="t" style="left:1330.55px;top:161.24px;line-height:21.67px;font-size:19.4px;white-space:pre;transform-origin:0 0;transform:scaleX(1.0531)">werden</div>
<div class="t" style="left:1403.20px;top:161.24px;line-height:21.67px;font-size:19.4px;white-space:pre;transform-origin:0 0;transform:scaleX(1.0757)">zum</div>
<div class="t" style="left:1448.40px;top:161.24px;line-height:21.67px;font-size:19.4px;white-space:pre;transform-origin:0 0;transform:scaleX(1.0813)">Winter</div>
<div class="t" style="left:1514.80px;top:161.24px;line-height:21.67px;font-size:19.4px;white-space:pre;transform-origin:0 0;transform:scaleX(1.0631)">die</div>
<div class="t" style="left:1548.02px;top:161.24px;line-height:21.67px;font-size:19.4px;white-space:pre;transform-origin:0 0;transform:scaleX(1.0809)">Monate</div>
<div class="t" style="left:1623.75px;top:161.24px;line-height:21.67px;font-size:19.4px;white-space:pre;transform-origin:0 0;transform:scaleX(1.0322)">Januar,</div>
<div class="t" style="left:1694.95px;top:161.24px;line-height:21.67px;font-size:19.4px;white-space:pre;transform-origin:0 0;transform:scaleX(1.0548)">Februar</div>
<div class="t" style="left:1772.26px;top:161.24px;line-height:21.67px;font-size:19.4px;white-space:pre;transform-origin:0 0;transform:scaleX(1.044)">und</div>
<div class="t" style="left:1811.66px;top:161.24px;line-height:21.67px;font-size:19.4px;white-space:pre;transform-origin:0 0;transform:scaleX(1.038)">Dezember</div>
<div class="t" style="left:1910.10px;top:161.24px;line-height:21.67px;font-size:19.4px;white-space:pre;transform-origin:0 0;transform:scaleX(0.9959)">des</div>
<div class="t" style="left:1946.60px;top:161.24px;line-height:21.67px;font-size:19.4px;white-space:pre;transform-origin:0 0;transform:scaleX(1.0481)">gleichen</div>
<div class="t" style="left:2027.96px;top:161.24px;line-height:21.67px;font-size:19.4px;white-space:pre;transform-origin:0 0;transform:scaleX(1.0392)">Kalenderjahres</div>
<div class="t" style="left:2169.10px;top:161.24px;line-height:21.67px;font-size:19.4px;white-space:pre;transform-origin:0 0;transform:scaleX(1.095)">addiert!</div>
<div class="t" style="left:329.80px;top:188.80px;width:94.50px;height:117.00px;line-height:117.00px;font-size:30.56px;text-align:center">Nr.</div>
<div class="t" style="left:427.30px;top:195.51px;line-height:24.80px;font-size:22.2px;white-space:pre;width:94.00px;text-align:center">GW</div>
<div class="t" style="left:430.00px;top:235.71px;line-height:24.80px;font-size:22.2px;white-space:pre;width:94.00px;text-align:center">zählt</div>
<div class="t" style="left:430.40px;top:275.91px;line-height:24.80px;font-size:22.2px;white-space:pre;width:94.00px;text-align:center">als</div>
<div class="t" style="left:526.30px;top:188.80px;width:94.69px;height:117.00px;line-height:117.00px;font-size:30.56px;text-align:center">Jan.</div>
<div class="t" style="left:624.99px;top:188.80px;width:94.69px;height:117.00px;line-height:117.00px;font-size:30.56px;text-align:center">Feb.</div>
<div class="t" style="left:723.68px;top:188.80px;width:94.69px;height:117.00px;line-height:117.00px;font-size:30.56px;text-align:center;font-weight:bold">W *</div>
<div class="t" style="left:822.37px;top:188.80px;width:94.69px;height:117.00px;line-height:117.00px;font-size:30.56px;text-align:center">März</div>
<div class="t" style="left:921.06px;top:188.80px;width:94.69px;height:117.00px;line-height:117.00px;font-size:30.56px;text-align:center">April</div>
<div class="t" style="left:1019.75px;top:188.80px;width:94.69px;height:117.00px;line-height:117.00px;font-size:30.56px;text-align:center">Mai</div>
<div class="t" style="left:1118.44px;top:188.80px;width:94.69px;height:117.00px;line-height:117.00px;font-size:30.56px;text-align:center;font-weight:bold">F</div>
<div class="t" style="left:1217.13px;top:188.80px;width:94.69px;height:117.00px;line-height:117.00px;font-size:30.56px;text-align:center">Juni</div>
<div class="t" style="left:1315.82px;top:188.80px;width:94.69px;height:117.00px;line-height:117.00px;font-size:30.56px;text-align:center">Juli</div>
<div class="t" style="left:1414.51px;top:188.80px;width:94.69px;height:117.00px;line-height:117.00px;font-size:30.56px;text-align:center">Aug.</div>
<div class="t" style="left:1513.20px;top:188.80px;width:94.69px;height:117.00px;line-height:117.00px;font-size:30.56px;text-align:center;font-weight:bold">S</div>
<div class="t" style="left:1611.89px;top:188.80px;width:94.69px;height:117.00px;line-height:117.00px;font-size:30.56px;text-align:center">Sept.</div>
<div class="t" style="left:1710.58px;top:188.80px;width:94.69px;height:117.00px;line-height:117.00px;font-size:30.56px;text-align:center">Okt.</div>
<div class="t" style="left:1809.27px;top:188.80px;width:94.69px;height:117.00px;line-height:117.00px;font-size:30.56px;text-align:center">Nov.</div>
<div class="t" style="left:1907.96px;top:188.80px;width:94.69px;height:117.00px;line-height:117.00px;font-size:30.56px;text-align:center;font-weight:bold">H</div>
<div class="t" style="left:2006.65px;top:188.80px;width:94.69px;height:117.00px;line-height:117.00px;font-size:30.56px;text-align:center">Dez.</div>
<div class="t" style="left:2105.34px;top:188.80px;width:129.96px;height:117.00px;line-height:117.00px;font-size:30.56px;text-align:center;font-weight:bold">Jahr</div>
<div class="t" style="left:129.30px;top:311.00px;width:400.00px;height:47.00px;line-height:47.00px;font-size:30.56px;text-align:left;letter-spacing:0.2px">Wa</div>
<div class="t" style="left:329.80px;top:311.00px;width:94.50px;height:47.00px;line-height:47.00px;font-size:30.56px;text-align:center"><svg viewBox="0 -1472 1139 1472" style="width:0.5562em;height:0.71875em;vertical-align:baseline;fill:currentColor"><path transform="scale(1,-1)" d="M723 0L543 0L543 1147Q478 1085 373 1023Q268 961 184 930L184 1104Q335 1175 448 1276Q561 1377 608 1472L723 1472Z"/></svg></div>
<div class="t" style="left:428.30px;top:311.00px;width:94.00px;height:47.00px;line-height:47.00px;font-size:30.56px;text-align:center">a</div>
<div class="t" style="left:526.30px;top:311.00px;width:94.69px;height:47.00px;line-height:47.00px;font-size:30.56px;text-align:center">9</div>
<div class="t" style="left:624.99px;top:311.00px;width:94.69px;height:47.00px;line-height:47.00px;font-size:30.56px;text-align:center">-</div>
<div class="t" style="left:822.37px;top:311.00px;width:94.69px;height:47.00px;line-height:47.00px;font-size:30.56px;text-align:center">-</div>
<div class="t" style="left:921.06px;top:311.00px;width:94.69px;height:47.00px;line-height:47.00px;font-size:30.56px;text-align:center">-</div>
<div class="t" style="left:1019.75px;top:311.00px;width:94.69px;height:47.00px;line-height:47.00px;font-size:30.56px;text-align:center">-</div>
<div class="t" style="left:1217.13px;top:311.00px;width:94.69px;height:47.00px;line-height:47.00px;font-size:30.56px;text-align:center">-</div>
<div class="t" style="left:1315.82px;top:311.00px;width:94.69px;height:47.00px;line-height:47.00px;font-size:30.56px;text-align:center">-</div>
<div class="t" style="left:1414.51px;top:311.00px;width:94.69px;height:47.00px;line-height:47.00px;font-size:30.56px;text-align:center">-</div>
<div class="t" style="left:1611.89px;top:311.00px;width:94.69px;height:47.00px;line-height:47.00px;font-size:30.56px;text-align:center">-</div>
<div class="t" style="left:1710.58px;top:311.00px;width:94.69px;height:47.00px;line-height:47.00px;font-size:30.56px;text-align:center">-</div>
<div class="t" style="left:1809.27px;top:311.00px;width:94.69px;height:47.00px;line-height:47.00px;font-size:30.56px;text-align:center">-</div>
<div class="t" style="left:2006.65px;top:311.00px;width:94.69px;height:47.00px;line-height:47.00px;font-size:30.56px;text-align:center">-</div>
<div class="t" style="left:129.30px;top:362.00px;width:400.00px;height:47.00px;line-height:47.00px;font-size:30.56px;text-align:left;letter-spacing:0.2px">Wz</div>
<div class="t" style="left:329.80px;top:362.00px;width:94.50px;height:47.00px;line-height:47.00px;font-size:30.56px;text-align:center">2</div>
<div class="t" style="left:428.30px;top:362.00px;width:94.00px;height:47.00px;line-height:47.00px;font-size:30.56px;text-align:center">z</div>
<div class="t" style="left:526.30px;top:362.00px;width:94.69px;height:47.00px;line-height:47.00px;font-size:30.56px;text-align:center">6</div>
<div class="t" style="left:624.99px;top:362.00px;width:94.69px;height:47.00px;line-height:47.00px;font-size:30.56px;text-align:center"><svg viewBox="0 -1472 1139 1472" style="width:0.5562em;height:0.71875em;vertical-align:baseline;fill:currentColor"><path transform="scale(1,-1)" d="M723 0L543 0L543 1147Q478 1085 373 1023Q268 961 184 930L184 1104Q335 1175 448 1276Q561 1377 608 1472L723 1472Z"/></svg>5</div>
<div class="t" style="left:822.37px;top:362.00px;width:94.69px;height:47.00px;line-height:47.00px;font-size:30.56px;text-align:center">-</div>
<div class="t" style="left:921.06px;top:362.00px;width:94.69px;height:47.00px;line-height:47.00px;font-size:30.56px;text-align:center">-</div>
<div class="t" style="left:1019.75px;top:362.00px;width:94.69px;height:47.00px;line-height:47.00px;font-size:30.56px;text-align:center">-</div>
<div class="t" style="left:1217.13px;top:362.00px;width:94.69px;height:47.00px;line-height:47.00px;font-size:30.56px;text-align:center">-</div>
<div class="t" style="left:1315.82px;top:362.00px;width:94.69px;height:47.00px;line-height:47.00px;font-size:30.56px;text-align:center">-</div>
<div class="t" style="left:1414.51px;top:362.00px;width:94.69px;height:47.00px;line-height:47.00px;font-size:30.56px;text-align:center">-</div>
<div class="t" style="left:1611.89px;top:362.00px;width:94.69px;height:47.00px;line-height:47.00px;font-size:30.56px;text-align:center">-</div>
<div class="t" style="left:1710.58px;top:362.00px;width:94.69px;height:47.00px;line-height:47.00px;font-size:30.56px;text-align:center">-</div>
<div class="t" style="left:1809.27px;top:362.00px;width:94.69px;height:47.00px;line-height:47.00px;font-size:30.56px;text-align:center">-</div>
<div class="t" style="left:2006.65px;top:362.00px;width:94.69px;height:47.00px;line-height:47.00px;font-size:30.56px;text-align:center">-</div>
<div class="t" style="left:129.30px;top:413.00px;width:400.00px;height:47.00px;line-height:47.00px;font-size:30.56px;text-align:left;letter-spacing:0.2px">Ws</div>
<div class="t" style="left:329.80px;top:413.00px;width:94.50px;height:47.00px;line-height:47.00px;font-size:30.56px;text-align:center">3</div>
<div class="t" style="left:428.30px;top:413.00px;width:94.00px;height:47.00px;line-height:47.00px;font-size:30.56px;text-align:center">z</div>
<div class="t" style="left:526.30px;top:413.00px;width:94.69px;height:47.00px;line-height:47.00px;font-size:30.56px;text-align:center">-</div>
<div class="t" style="left:624.99px;top:413.00px;width:94.69px;height:47.00px;line-height:47.00px;font-size:30.56px;text-align:center">-</div>
<div class="t" style="left:822.37px;top:413.00px;width:94.69px;height:47.00px;line-height:47.00px;font-size:30.56px;text-align:center">-</div>
<div class="t" style="left:921.06px;top:413.00px;width:94.69px;height:47.00px;line-height:47.00px;font-size:30.56px;text-align:center">-</div>
<div class="t" style="left:1019.75px;top:413.00px;width:94.69px;height:47.00px;line-height:47.00px;font-size:30.56px;text-align:center">-</div>
<div class="t" style="left:1217.13px;top:413.00px;width:94.69px;height:47.00px;line-height:47.00px;font-size:30.56px;text-align:center">-</div>
<div class="t" style="left:1315.82px;top:413.00px;width:94.69px;height:47.00px;line-height:47.00px;font-size:30.56px;text-align:center">-</div>
<div class="t" style="left:1414.51px;top:413.00px;width:94.69px;height:47.00px;line-height:47.00px;font-size:30.56px;text-align:center">-</div>
<div class="t" style="left:1611.89px;top:413.00px;width:94.69px;height:47.00px;line-height:47.00px;font-size:30.56px;text-align:center">-</div>
<div class="t" style="left:1710.58px;top:413.00px;width:94.69px;height:47.00px;line-height:47.00px;font-size:30.56px;text-align:center">-</div>
<div class="t" style="left:1809.27px;top:413.00px;width:94.69px;height:47.00px;line-height:47.00px;font-size:30.56px;text-align:center">-</div>
<div class="t" style="left:2006.65px;top:413.00px;width:94.69px;height:47.00px;line-height:47.00px;font-size:30.56px;text-align:center">-</div>
<div class="t" style="left:129.30px;top:464.00px;width:400.00px;height:47.00px;line-height:47.00px;font-size:30.56px;text-align:left;letter-spacing:0.2px">Ww</div>
<div class="t" style="left:329.80px;top:464.00px;width:94.50px;height:47.00px;line-height:47.00px;font-size:30.56px;text-align:center">4</div>
<div class="t" style="left:428.30px;top:464.00px;width:94.00px;height:47.00px;line-height:47.00px;font-size:30.56px;text-align:center">z</div>
<div class="t" style="left:526.30px;top:464.00px;width:94.69px;height:47.00px;line-height:47.00px;font-size:30.56px;text-align:center">-</div>
<div class="t" style="left:624.99px;top:464.00px;width:94.69px;height:47.00px;line-height:47.00px;font-size:30.56px;text-align:center">-</div>
<div class="t" style="left:822.37px;top:464.00px;width:94.69px;height:47.00px;line-height:47.00px;font-size:30.56px;text-align:center">-</div>
<div class="t" style="left:921.06px;top:464.00px;width:94.69px;height:47.00px;line-height:47.00px;font-size:30.56px;text-align:center">-</div>
<div class="t" style="left:1019.75px;top:464.00px;width:94.69px;height:47.00px;line-height:47.00px;font-size:30.56px;text-align:center">-</div>
<div class="t" style="left:1217.13px;top:464.00px;width:94.69px;height:47.00px;line-height:47.00px;font-size:30.56px;text-align:center">-</div>
<div class="t" style="left:1315.82px;top:464.00px;width:94.69px;height:47.00px;line-height:47.00px;font-size:30.56px;text-align:center">-</div>
<div class="t" style="left:1414.51px;top:464.00px;width:94.69px;height:47.00px;line-height:47.00px;font-size:30.56px;text-align:center">-</div>
<div class="t" style="left:1611.89px;top:464.00px;width:94.69px;height:47.00px;line-height:47.00px;font-size:30.56px;text-align:center">-</div>
<div class="t" style="left:1710.58px;top:464.00px;width:94.69px;height:47.00px;line-height:47.00px;font-size:30.56px;text-align:center">-</div>
<div class="t" style="left:1809.27px;top:464.00px;width:94.69px;height:47.00px;line-height:47.00px;font-size:30.56px;text-align:center">-</div>
<div class="t" style="left:2006.65px;top:464.00px;width:94.69px;height:47.00px;line-height:47.00px;font-size:30.56px;text-align:center">-</div>
<div class="t" style="left:129.30px;top:515.00px;width:400.00px;height:47.00px;line-height:47.00px;font-size:30.56px;text-align:left;font-weight:bold;letter-spacing:0.2px">W (GT)</div>
<div class="t" style="left:526.30px;top:515.00px;width:94.69px;height:47.00px;line-height:47.00px;font-size:30.56px;text-align:center;font-weight:bold"><svg viewBox="0 -1472 1139 1472" style="width:0.5562em;height:0.71875em;vertical-align:baseline;fill:currentColor"><path transform="scale(1,-1)" d="M813 0L545 0L545 1030Q430 920 136 813L136 1081Q300 1130 420 1240Q520 1330 580 1472L813 1472Z"/></svg>5</div>
<div class="t" style="left:624.99px;top:515.00px;width:94.69px;height:47.00px;line-height:47.00px;font-size:30.56px;text-align:center;font-weight:bold"><svg viewBox="0 -1472 1139 1472" style="width:0.5562em;height:0.71875em;vertical-align:baseline;fill:currentColor"><path transform="scale(1,-1)" d="M813 0L545 0L545 1030Q430 920 136 813L136 1081Q300 1130 420 1240Q520 1330 580 1472L813 1472Z"/></svg>5</div>
<div class="t" style="left:723.68px;top:515.00px;width:94.69px;height:47.00px;line-height:47.00px;font-size:30.56px;text-align:center">30</div>
<div class="t" style="left:822.37px;top:515.00px;width:94.69px;height:47.00px;line-height:47.00px;font-size:30.56px;text-align:center;font-weight:bold">0</div>
<div class="t" style="left:921.06px;top:515.00px;width:94.69px;height:47.00px;line-height:47.00px;font-size:30.56px;text-align:center;font-weight:bold">0</div>
<div class="t" style="left:1019.75px;top:515.00px;width:94.69px;height:47.00px;line-height:47.00px;font-size:30.56px;text-align:center;font-weight:bold">0</div>
<div class="t" style="left:1118.44px;top:515.00px;width:94.69px;height:47.00px;line-height:47.00px;font-size:30.56px;text-align:center">0</div>
<div class="t" style="left:1217.13px;top:515.00px;width:94.69px;height:47.00px;line-height:47.00px;font-size:30.56px;text-align:center;font-weight:bold">0</div>
<div class="t" style="left:1315.82px;top:515.00px;width:94.69px;height:47.00px;line-height:47.00px;font-size:30.56px;text-align:center;font-weight:bold">0</div>
<div class="t" style="left:1414.51px;top:515.00px;width:94.69px;height:47.00px;line-height:47.00px;font-size:30.56px;text-align:center;font-weight:bold">0</div>
<div class="t" style="left:1513.20px;top:515.00px;width:94.69px;height:47.00px;line-height:47.00px;font-size:30.56px;text-align:center">0</div>
<div class="t" style="left:1611.89px;top:515.00px;width:94.69px;height:47.00px;line-height:47.00px;font-size:30.56px;text-align:center;font-weight:bold">0</div>
<div class="t" style="left:1710.58px;top:515.00px;width:94.69px;height:47.00px;line-height:47.00px;font-size:30.56px;text-align:center;font-weight:bold">0</div>
<div class="t" style="left:1809.27px;top:515.00px;width:94.69px;height:47.00px;line-height:47.00px;font-size:30.56px;text-align:center;font-weight:bold">0</div>
<div class="t" style="left:1907.96px;top:515.00px;width:94.69px;height:47.00px;line-height:47.00px;font-size:30.56px;text-align:center">0</div>
<div class="t" style="left:2006.65px;top:515.00px;width:94.69px;height:47.00px;line-height:47.00px;font-size:30.56px;text-align:center;font-weight:bold">0</div>
<div class="t" style="left:2105.34px;top:515.00px;width:129.96px;height:47.00px;line-height:47.00px;font-size:30.56px;text-align:center;font-weight:bold">30</div>
<div class="t" style="left:129.30px;top:566.00px;width:400.00px;height:50.00px;line-height:50.00px;font-size:30.56px;text-align:left;letter-spacing:0.2px">zonale Zirkulation</div>
<div class="t" style="left:526.30px;top:566.00px;width:94.69px;height:50.00px;line-height:50.00px;font-size:30.56px;text-align:center"><svg viewBox="0 -1472 1139 1472" style="width:0.5562em;height:0.71875em;vertical-align:baseline;fill:currentColor"><path transform="scale(1,-1)" d="M723 0L543 0L543 1147Q478 1085 373 1023Q268 961 184 930L184 1104Q335 1175 448 1276Q561 1377 608 1472L723 1472Z"/></svg>5</div>
<div class="t" style="left:624.99px;top:566.00px;width:94.69px;height:50.00px;line-height:50.00px;font-size:30.56px;text-align:center"><svg viewBox="0 -1472 1139 1472" style="width:0.5562em;height:0.71875em;vertical-align:baseline;fill:currentColor"><path transform="scale(1,-1)" d="M723 0L543 0L543 1147Q478 1085 373 1023Q268 961 184 930L184 1104Q335 1175 448 1276Q561 1377 608 1472L723 1472Z"/></svg>5</div>
<div class="t" style="left:723.68px;top:566.00px;width:94.69px;height:50.00px;line-height:50.00px;font-size:30.56px;text-align:center;font-weight:bold;color:#9C3A06">30</div>
<div class="t" style="left:822.37px;top:566.00px;width:94.69px;height:50.00px;line-height:50.00px;font-size:30.56px;text-align:center">0</div>
<div class="t" style="left:921.06px;top:566.00px;width:94.69px;height:50.00px;line-height:50.00px;font-size:30.56px;text-align:center">0</div>
<div class="t" style="left:1019.75px;top:566.00px;width:94.69px;height:50.00px;line-height:50.00px;font-size:30.56px;text-align:center">0</div>
<div class="t" style="left:1118.44px;top:566.00px;width:94.69px;height:50.00px;line-height:50.00px;font-size:30.56px;text-align:center;font-weight:bold;color:#9C3A06">0</div>
<div class="t" style="left:1217.13px;top:566.00px;width:94.69px;height:50.00px;line-height:50.00px;font-size:30.56px;text-align:center">0</div>
<div class="t" style="left:1315.82px;top:566.00px;width:94.69px;height:50.00px;line-height:50.00px;font-size:30.56px;text-align:center">0</div>
<div class="t" style="left:1414.51px;top:566.00px;width:94.69px;height:50.00px;line-height:50.00px;font-size:30.56px;text-align:center">0</div>
<div class="t" style="left:1513.20px;top:566.00px;width:94.69px;height:50.00px;line-height:50.00px;font-size:30.56px;text-align:center;font-weight:bold;color:#9C3A06">0</div>
<div class="t" style="left:1611.89px;top:566.00px;width:94.69px;height:50.00px;line-height:50.00px;font-size:30.56px;text-align:center">0</div>
<div class="t" style="left:1710.58px;top:566.00px;width:94.69px;height:50.00px;line-height:50.00px;font-size:30.56px;text-align:center">0</div>
<div class="t" style="left:1809.27px;top:566.00px;width:94.69px;height:50.00px;line-height:50.00px;font-size:30.56px;text-align:center">0</div>
<div class="t" style="left:1907.96px;top:566.00px;width:94.69px;height:50.00px;line-height:50.00px;font-size:30.56px;text-align:center;font-weight:bold;color:#9C3A06">0</div>
<div class="t" style="left:2006.65px;top:566.00px;width:94.69px;height:50.00px;line-height:50.00px;font-size:30.56px;text-align:center">0</div>
<div class="t" style="left:2105.34px;top:566.00px;width:129.96px;height:50.00px;line-height:50.00px;font-size:30.56px;text-align:center;font-weight:bold;color:#9C3A06">30</div>
<div class="t" style="left:130.92px;top:732.05px;line-height:42.89px;font-size:38.4px;white-space:pre;font-weight:bold;transform-origin:0 0;transform:scaleX(0.9792)">Gemischte</div>
<div class="t" style="left:335.99px;top:732.05px;line-height:42.89px;font-size:38.4px;white-space:pre;font-weight:bold;transform-origin:0 0;transform:scaleX(1.0115)">Zirkulation</div>
<div class="t" style="left:908.00px;top:779.24px;line-height:21.67px;font-size:19.4px;white-space:pre">W</div>
<div class="t" style="left:933.30px;top:779.24px;line-height:21.67px;font-size:19.4px;white-space:pre">*</div>
<div class="t" style="left:959.11px;top:779.24px;line-height:21.67px;font-size:19.4px;white-space:pre;transform-origin:0 0;transform:scaleX(0.9903)">Bei</div>
<div class="t" style="left:992.20px;top:779.24px;line-height:21.67px;font-size:19.4px;white-space:pre;transform-origin:0 0;transform:scaleX(1.0891)">der</div>
<div class="t" style="left:1028.55px;top:779.24px;line-height:21.67px;font-size:19.4px;white-space:pre;transform-origin:0 0;transform:scaleX(1.0504)">jahreszeitlichen</div>
<div class="t" style="left:1174.60px;top:779.24px;line-height:21.67px;font-size:19.4px;white-space:pre;transform-origin:0 0;transform:scaleX(1.0719)">Summenbildung</div>
<div class="t" style="left:1330.55px;top:779.24px;line-height:21.67px;font-size:19.4px;white-space:pre;transform-origin:0 0;transform:scaleX(1.0531)">werden</div>
<div class="t" style="left:1403.20px;top:779.24px;line-height:21.67px;font-size:19.4px;white-space:pre;transform-origin:0 0;transform:scaleX(1.0757)">zum</div>
<div class="t" style="left:1448.40px;top:779.24px;line-height:21.67px;font-size:19.4px;white-space:pre;transform-origin:0 0;transform:scaleX(1.0813)">Winter</div>
<div class="t" style="left:1514.80px;top:779.24px;line-height:21.67px;font-size:19.4px;white-space:pre;transform-origin:0 0;transform:scaleX(1.0631)">die</div>
<div class="t" style="left:1548.02px;top:779.24px;line-height:21.67px;font-size:19.4px;white-space:pre;transform-origin:0 0;transform:scaleX(1.0809)">Monate</div>
<div class="t" style="left:1623.75px;top:779.24px;line-height:21.67px;font-size:19.4px;white-space:pre;transform-origin:0 0;transform:scaleX(1.0322)">Januar,</div>
<div class="t" style="left:1694.95px;top:779.24px;line-height:21.67px;font-size:19.4px;white-space:pre;transform-origin:0 0;transform:scaleX(1.0548)">Februar</div>
<div class="t" style="left:1772.26px;top:779.24px;line-height:21.67px;font-size:19.4px;white-space:pre;transform-origin:0 0;transform:scaleX(1.044)">und</div>
<div class="t" style="left:1811.66px;top:779.24px;line-height:21.67px;font-size:19.4px;white-space:pre;transform-origin:0 0;transform:scaleX(1.038)">Dezember</div>
<div class="t" style="left:1910.10px;top:779.24px;line-height:21.67px;font-size:19.4px;white-space:pre;transform-origin:0 0;transform:scaleX(0.9959)">des</div>
<div class="t" style="left:1946.60px;top:779.24px;line-height:21.67px;font-size:19.4px;white-space:pre;transform-origin:0 0;transform:scaleX(1.0481)">gleichen</div>
<div class="t" style="left:2027.96px;top:779.24px;line-height:21.67px;font-size:19.4px;white-space:pre;transform-origin:0 0;transform:scaleX(1.0392)">Kalenderjahres</div>
<div class="t" style="left:2169.10px;top:779.24px;line-height:21.67px;font-size:19.4px;white-space:pre;transform-origin:0 0;transform:scaleX(1.095)">addiert!</div>
<div class="t" style="left:329.80px;top:806.80px;width:94.50px;height:117.00px;line-height:117.00px;font-size:30.56px;text-align:center">Nr.</div>
<div class="t" style="left:427.30px;top:813.51px;line-height:24.80px;font-size:22.2px;white-space:pre;width:94.00px;text-align:center">GW</div>
<div class="t" style="left:430.00px;top:853.71px;line-height:24.80px;font-size:22.2px;white-space:pre;width:94.00px;text-align:center">zählt</div>
<div class="t" style="left:430.40px;top:893.91px;line-height:24.80px;font-size:22.2px;white-space:pre;width:94.00px;text-align:center">als</div>
<div class="t" style="left:526.30px;top:806.80px;width:94.69px;height:117.00px;line-height:117.00px;font-size:30.56px;text-align:center">Jan.</div>
<div class="t" style="left:624.99px;top:806.80px;width:94.69px;height:117.00px;line-height:117.00px;font-size:30.56px;text-align:center">Feb.</div>
<div class="t" style="left:723.68px;top:806.80px;width:94.69px;height:117.00px;line-height:117.00px;font-size:30.56px;text-align:center;font-weight:bold">W *</div>
<div class="t" style="left:822.37px;top:806.80px;width:94.69px;height:117.00px;line-height:117.00px;font-size:30.56px;text-align:center">März</div>
<div class="t" style="left:921.06px;top:806.80px;width:94.69px;height:117.00px;line-height:117.00px;font-size:30.56px;text-align:center">April</div>
<div class="t" style="left:1019.75px;top:806.80px;width:94.69px;height:117.00px;line-height:117.00px;font-size:30.56px;text-align:center">Mai</div>
<div class="t" style="left:1118.44px;top:806.80px;width:94.69px;height:117.00px;line-height:117.00px;font-size:30.56px;text-align:center;font-weight:bold">F</div>
<div class="t" style="left:1217.13px;top:806.80px;width:94.69px;height:117.00px;line-height:117.00px;font-size:30.56px;text-align:center">Juni</div>
<div class="t" style="left:1315.82px;top:806.80px;width:94.69px;height:117.00px;line-height:117.00px;font-size:30.56px;text-align:center">Juli</div>
<div class="t" style="left:1414.51px;top:806.80px;width:94.69px;height:117.00px;line-height:117.00px;font-size:30.56px;text-align:center">Aug.</div>
<div class="t" style="left:1513.20px;top:806.80px;width:94.69px;height:117.00px;line-height:117.00px;font-size:30.56px;text-align:center;font-weight:bold">S</div>
<div class="t" style="left:1611.89px;top:806.80px;width:94.69px;height:117.00px;line-height:117.00px;font-size:30.56px;text-align:center">Sept.</div>
<div class="t" style="left:1710.58px;top:806.80px;width:94.69px;height:117.00px;line-height:117.00px;font-size:30.56px;text-align:center">Okt.</div>
<div class="t" style="left:1809.27px;top:806.80px;width:94.69px;height:117.00px;line-height:117.00px;font-size:30.56px;text-align:center">Nov.</div>
<div class="t" style="left:1907.96px;top:806.80px;width:94.69px;height:117.00px;line-height:117.00px;font-size:30.56px;text-align:center;font-weight:bold">H</div>
<div class="t" style="left:2006.65px;top:806.80px;width:94.69px;height:117.00px;line-height:117.00px;font-size:30.56px;text-align:center">Dez.</div>
<div class="t" style="left:2105.34px;top:806.80px;width:129.96px;height:117.00px;line-height:117.00px;font-size:30.56px;text-align:center;font-weight:bold">Jahr</div>
<div class="t" style="left:129.30px;top:929.00px;width:400.00px;height:47.00px;line-height:47.00px;font-size:30.56px;text-align:left;letter-spacing:0.2px">SWa</div>
<div class="t" style="left:329.80px;top:929.00px;width:94.50px;height:47.00px;line-height:47.00px;font-size:30.56px;text-align:center">5</div>
<div class="t" style="left:428.30px;top:929.00px;width:94.00px;height:47.00px;line-height:47.00px;font-size:30.56px;text-align:center">H+a</div>
<div class="t" style="left:526.30px;top:929.00px;width:94.69px;height:47.00px;line-height:47.00px;font-size:30.56px;text-align:center">-</div>
<div class="t" style="left:624.99px;top:929.00px;width:94.69px;height:47.00px;line-height:47.00px;font-size:30.56px;text-align:center">4</div>
<div class="t" style="left:822.37px;top:929.00px;width:94.69px;height:47.00px;line-height:47.00px;font-size:30.56px;text-align:center">-</div>
<div class="t" style="left:921.06px;top:929.00px;width:94.69px;height:47.00px;line-height:47.00px;font-size:30.56px;text-align:center">-</div>
<div class="t" style="left:1019.75px;top:929.00px;width:94.69px;height:47.00px;line-height:47.00px;font-size:30.56px;text-align:center">-</div>
<div class="t" style="left:1217.13px;top:929.00px;width:94.69px;height:47.00px;line-height:47.00px;font-size:30.56px;text-align:center">-</div>
<div class="t" style="left:1315.82px;top:929.00px;width:94.69px;height:47.00px;line-height:47.00px;font-size:30.56px;text-align:center">-</div>
<div class="t" style="left:1414.51px;top:929.00px;width:94.69px;height:47.00px;line-height:47.00px;font-size:30.56px;text-align:center">-</div>
<div class="t" style="left:1611.89px;top:929.00px;width:94.69px;height:47.00px;line-height:47.00px;font-size:30.56px;text-align:center">-</div>
<div class="t" style="left:1710.58px;top:929.00px;width:94.69px;height:47.00px;line-height:47.00px;font-size:30.56px;text-align:center">-</div>
<div class="t" style="left:1809.27px;top:929.00px;width:94.69px;height:47.00px;line-height:47.00px;font-size:30.56px;text-align:center">-</div>
<div class="t" style="left:2006.65px;top:929.00px;width:94.69px;height:47.00px;line-height:47.00px;font-size:30.56px;text-align:center">-</div>
<div class="t" style="left:129.30px;top:980.00px;width:400.00px;height:47.00px;line-height:47.00px;font-size:30.56px;text-align:left;letter-spacing:0.2px">SWz</div>
<div class="t" style="left:329.80px;top:980.00px;width:94.50px;height:47.00px;line-height:47.00px;font-size:30.56px;text-align:center">6</div>
<div class="t" style="left:428.30px;top:980.00px;width:94.00px;height:47.00px;line-height:47.00px;font-size:30.56px;text-align:center">z</div>
<div class="t" style="left:526.30px;top:980.00px;width:94.69px;height:47.00px;line-height:47.00px;font-size:30.56px;text-align:center">5</div>
<div class="t" style="left:624.99px;top:980.00px;width:94.69px;height:47.00px;line-height:47.00px;font-size:30.56px;text-align:center">-</div>
<div class="t" style="left:822.37px;top:980.00px;width:94.69px;height:47.00px;line-height:47.00px;font-size:30.56px;text-align:center">-</div>
<div class="t" style="left:921.06px;top:980.00px;width:94.69px;height:47.00px;line-height:47.00px;font-size:30.56px;text-align:center">-</div>
<div class="t" style="left:1019.75px;top:980.00px;width:94.69px;height:47.00px;line-height:47.00px;font-size:30.56px;text-align:center">-</div>
<div class="t" style="left:1217.13px;top:980.00px;width:94.69px;height:47.00px;line-height:47.00px;font-size:30.56px;text-align:center">-</div>
<div class="t" style="left:1315.82px;top:980.00px;width:94.69px;height:47.00px;line-height:47.00px;font-size:30.56px;text-align:center">-</div>
<div class="t" style="left:1414.51px;top:980.00px;width:94.69px;height:47.00px;line-height:47.00px;font-size:30.56px;text-align:center">-</div>
<div class="t" style="left:1611.89px;top:980.00px;width:94.69px;height:47.00px;line-height:47.00px;font-size:30.56px;text-align:center">-</div>
<div class="t" style="left:1710.58px;top:980.00px;width:94.69px;height:47.00px;line-height:47.00px;font-size:30.56px;text-align:center">-</div>
<div class="t" style="left:1809.27px;top:980.00px;width:94.69px;height:47.00px;line-height:47.00px;font-size:30.56px;text-align:center">-</div>
<div class="t" style="left:2006.65px;top:980.00px;width:94.69px;height:47.00px;line-height:47.00px;font-size:30.56px;text-align:center">-</div>
<div class="t" style="left:129.30px;top:1031.00px;width:400.00px;height:47.00px;line-height:47.00px;font-size:30.56px;text-align:left;font-weight:bold;letter-spacing:0.2px">SW (GT)</div>
<div class="t" style="left:526.30px;top:1031.00px;width:94.69px;height:47.00px;line-height:47.00px;font-size:30.56px;text-align:center;font-weight:bold">5</div>
<div class="t" style="left:624.99px;top:1031.00px;width:94.69px;height:47.00px;line-height:47.00px;font-size:30.56px;text-align:center;font-weight:bold">4</div>
<div class="t" style="left:723.68px;top:1031.00px;width:94.69px;height:47.00px;line-height:47.00px;font-size:30.56px;text-align:center">9</div>
<div class="t" style="left:822.37px;top:1031.00px;width:94.69px;height:47.00px;line-height:47.00px;font-size:30.56px;text-align:center;font-weight:bold">0</div>
<div class="t" style="left:921.06px;top:1031.00px;width:94.69px;height:47.00px;line-height:47.00px;font-size:30.56px;text-align:center;font-weight:bold">0</div>
<div class="t" style="left:1019.75px;top:1031.00px;width:94.69px;height:47.00px;line-height:47.00px;font-size:30.56px;text-align:center;font-weight:bold">0</div>
<div class="t" style="left:1118.44px;top:1031.00px;width:94.69px;height:47.00px;line-height:47.00px;font-size:30.56px;text-align:center">0</div>
<div class="t" style="left:1217.13px;top:1031.00px;width:94.69px;height:47.00px;line-height:47.00px;font-size:30.56px;text-align:center;font-weight:bold">0</div>
<div class="t" style="left:1315.82px;top:1031.00px;width:94.69px;height:47.00px;line-height:47.00px;font-size:30.56px;text-align:center;font-weight:bold">0</div>
<div class="t" style="left:1414.51px;top:1031.00px;width:94.69px;height:47.00px;line-height:47.00px;font-size:30.56px;text-align:center;font-weight:bold">0</div>
<div class="t" style="left:1513.20px;top:1031.00px;width:94.69px;height:47.00px;line-height:47.00px;font-size:30.56px;text-align:center">0</div>
<div class="t" style="left:1611.89px;top:1031.00px;width:94.69px;height:47.00px;line-height:47.00px;font-size:30.56px;text-align:center;font-weight:bold">0</div>
<div class="t" style="left:1710.58px;top:1031.00px;width:94.69px;height:47.00px;line-height:47.00px;font-size:30.56px;text-align:center;font-weight:bold">0</div>
<div class="t" style="left:1809.27px;top:1031.00px;width:94.69px;height:47.00px;line-height:47.00px;font-size:30.56px;text-align:center;font-weight:bold">0</div>
<div class="t" style="left:1907.96px;top:1031.00px;width:94.69px;height:47.00px;line-height:47.00px;font-size:30.56px;text-align:center">0</div>
<div class="t" style="left:2006.65px;top:1031.00px;width:94.69px;height:47.00px;line-height:47.00px;font-size:30.56px;text-align:center;font-weight:bold">0</div>
<div class="t" style="left:2105.34px;top:1031.00px;width:129.96px;height:47.00px;line-height:47.00px;font-size:30.56px;text-align:center;font-weight:bold">9</div>
<div class="t" style="left:129.30px;top:1082.00px;width:400.00px;height:47.00px;line-height:47.00px;font-size:30.56px;text-align:left;letter-spacing:0.2px">NWa</div>
<div class="t" style="left:329.80px;top:1082.00px;width:94.50px;height:47.00px;line-height:47.00px;font-size:30.56px;text-align:center">7</div>
<div class="t" style="left:428.30px;top:1082.00px;width:94.00px;height:47.00px;line-height:47.00px;font-size:30.56px;text-align:center">a</div>
<div class="t" style="left:526.30px;top:1082.00px;width:94.69px;height:47.00px;line-height:47.00px;font-size:30.56px;text-align:center">3</div>
<div class="t" style="left:624.99px;top:1082.00px;width:94.69px;height:47.00px;line-height:47.00px;font-size:30.56px;text-align:center">-</div>
<div class="t" style="left:822.37px;top:1082.00px;width:94.69px;height:47.00px;line-height:47.00px;font-size:30.56px;text-align:center">-</div>
<div class="t" style="left:921.06px;top:1082.00px;width:94.69px;height:47.00px;line-height:47.00px;font-size:30.56px;text-align:center">-</div>
<div class="t" style="left:1019.75px;top:1082.00px;width:94.69px;height:47.00px;line-height:47.00px;font-size:30.56px;text-align:center">-</div>
<div class="t" style="left:1217.13px;top:1082.00px;width:94.69px;height:47.00px;line-height:47.00px;font-size:30.56px;text-align:center">-</div>
<div class="t" style="left:1315.82px;top:1082.00px;width:94.69px;height:47.00px;line-height:47.00px;font-size:30.56px;text-align:center">-</div>
<div class="t" style="left:1414.51px;top:1082.00px;width:94.69px;height:47.00px;line-height:47.00px;font-size:30.56px;text-align:center">-</div>
<div class="t" style="left:1611.89px;top:1082.00px;width:94.69px;height:47.00px;line-height:47.00px;font-size:30.56px;text-align:center">-</div>
<div class="t" style="left:1710.58px;top:1082.00px;width:94.69px;height:47.00px;line-height:47.00px;font-size:30.56px;text-align:center">-</div>
<div class="t" style="left:1809.27px;top:1082.00px;width:94.69px;height:47.00px;line-height:47.00px;font-size:30.56px;text-align:center">-</div>
<div class="t" style="left:2006.65px;top:1082.00px;width:94.69px;height:47.00px;line-height:47.00px;font-size:30.56px;text-align:center">-</div>
<div class="t" style="left:129.30px;top:1133.00px;width:400.00px;height:47.00px;line-height:47.00px;font-size:30.56px;text-align:left;letter-spacing:0.2px">NWz</div>
<div class="t" style="left:329.80px;top:1133.00px;width:94.50px;height:47.00px;line-height:47.00px;font-size:30.56px;text-align:center">8</div>
<div class="t" style="left:428.30px;top:1133.00px;width:94.00px;height:47.00px;line-height:47.00px;font-size:30.56px;text-align:center">z</div>
<div class="t" style="left:526.30px;top:1133.00px;width:94.69px;height:47.00px;line-height:47.00px;font-size:30.56px;text-align:center">-</div>
<div class="t" style="left:624.99px;top:1133.00px;width:94.69px;height:47.00px;line-height:47.00px;font-size:30.56px;text-align:center">6</div>
<div class="t" style="left:822.37px;top:1133.00px;width:94.69px;height:47.00px;line-height:47.00px;font-size:30.56px;text-align:center">-</div>
<div class="t" style="left:921.06px;top:1133.00px;width:94.69px;height:47.00px;line-height:47.00px;font-size:30.56px;text-align:center">-</div>
<div class="t" style="left:1019.75px;top:1133.00px;width:94.69px;height:47.00px;line-height:47.00px;font-size:30.56px;text-align:center">-</div>
<div class="t" style="left:1217.13px;top:1133.00px;width:94.69px;height:47.00px;line-height:47.00px;font-size:30.56px;text-align:center">-</div>
<div class="t" style="left:1315.82px;top:1133.00px;width:94.69px;height:47.00px;line-height:47.00px;font-size:30.56px;text-align:center">-</div>
<div class="t" style="left:1414.51px;top:1133.00px;width:94.69px;height:47.00px;line-height:47.00px;font-size:30.56px;text-align:center">-</div>
<div class="t" style="left:1611.89px;top:1133.00px;width:94.69px;height:47.00px;line-height:47.00px;font-size:30.56px;text-align:center">-</div>
<div class="t" style="left:1710.58px;top:1133.00px;width:94.69px;height:47.00px;line-height:47.00px;font-size:30.56px;text-align:center">-</div>
<div class="t" style="left:1809.27px;top:1133.00px;width:94.69px;height:47.00px;line-height:47.00px;font-size:30.56px;text-align:center">-</div>
<div class="t" style="left:2006.65px;top:1133.00px;width:94.69px;height:47.00px;line-height:47.00px;font-size:30.56px;text-align:center">-</div>
<div class="t" style="left:129.30px;top:1184.00px;width:400.00px;height:47.00px;line-height:47.00px;font-size:30.56px;text-align:left;font-weight:bold;letter-spacing:0.2px">NW (GT)</div>
<div class="t" style="left:526.30px;top:1184.00px;width:94.69px;height:47.00px;line-height:47.00px;font-size:30.56px;text-align:center;font-weight:bold">3</div>
<div class="t" style="left:624.99px;top:1184.00px;width:94.69px;height:47.00px;line-height:47.00px;font-size:30.56px;text-align:center;font-weight:bold">6</div>
<div class="t" style="left:723.68px;top:1184.00px;width:94.69px;height:47.00px;line-height:47.00px;font-size:30.56px;text-align:center">9</div>
<div class="t" style="left:822.37px;top:1184.00px;width:94.69px;height:47.00px;line-height:47.00px;font-size:30.56px;text-align:center;font-weight:bold">0</div>
<div class="t" style="left:921.06px;top:1184.00px;width:94.69px;height:47.00px;line-height:47.00px;font-size:30.56px;text-align:center;font-weight:bold">0</div>
<div class="t" style="left:1019.75px;top:1184.00px;width:94.69px;height:47.00px;line-height:47.00px;font-size:30.56px;text-align:center;font-weight:bold">0</div>
<div class="t" style="left:1118.44px;top:1184.00px;width:94.69px;height:47.00px;line-height:47.00px;font-size:30.56px;text-align:center">0</div>
<div class="t" style="left:1217.13px;top:1184.00px;width:94.69px;height:47.00px;line-height:47.00px;font-size:30.56px;text-align:center;font-weight:bold">0</div>
<div class="t" style="left:1315.82px;top:1184.00px;width:94.69px;height:47.00px;line-height:47.00px;font-size:30.56px;text-align:center;font-weight:bold">0</div>
<div class="t" style="left:1414.51px;top:1184.00px;width:94.69px;height:47.00px;line-height:47.00px;font-size:30.56px;text-align:center;font-weight:bold">0</div>
<div class="t" style="left:1513.20px;top:1184.00px;width:94.69px;height:47.00px;line-height:47.00px;font-size:30.56px;text-align:center">0</div>
<div class="t" style="left:1611.89px;top:1184.00px;width:94.69px;height:47.00px;line-height:47.00px;font-size:30.56px;text-align:center;font-weight:bold">0</div>
<div class="t" style="left:1710.58px;top:1184.00px;width:94.69px;height:47.00px;line-height:47.00px;font-size:30.56px;text-align:center;font-weight:bold">0</div>
<div class="t" style="left:1809.27px;top:1184.00px;width:94.69px;height:47.00px;line-height:47.00px;font-size:30.56px;text-align:center;font-weight:bold">0</div>
<div class="t" style="left:1907.96px;top:1184.00px;width:94.69px;height:47.00px;line-height:47.00px;font-size:30.56px;text-align:center">0</div>
<div class="t" style="left:2006.65px;top:1184.00px;width:94.69px;height:47.00px;line-height:47.00px;font-size:30.56px;text-align:center;font-weight:bold">0</div>
<div class="t" style="left:2105.34px;top:1184.00px;width:129.96px;height:47.00px;line-height:47.00px;font-size:30.56px;text-align:center;font-weight:bold">9</div>
<div class="t" style="left:129.30px;top:1235.00px;width:400.00px;height:47.00px;line-height:47.00px;font-size:30.56px;text-align:left;letter-spacing:0.2px">HM</div>
<div class="t" style="left:329.80px;top:1235.00px;width:94.50px;height:47.00px;line-height:47.00px;font-size:30.56px;text-align:center">9</div>
<div class="t" style="left:428.30px;top:1235.00px;width:94.00px;height:47.00px;line-height:47.00px;font-size:30.56px;text-align:center">H+a</div>
<div class="t" style="left:526.30px;top:1235.00px;width:94.69px;height:47.00px;line-height:47.00px;font-size:30.56px;text-align:center">-</div>
<div class="t" style="left:624.99px;top:1235.00px;width:94.69px;height:47.00px;line-height:47.00px;font-size:30.56px;text-align:center">3</div>
<div class="t" style="left:822.37px;top:1235.00px;width:94.69px;height:47.00px;line-height:47.00px;font-size:30.56px;text-align:center">-</div>
<div class="t" style="left:921.06px;top:1235.00px;width:94.69px;height:47.00px;line-height:47.00px;font-size:30.56px;text-align:center">-</div>
<div class="t" style="left:1019.75px;top:1235.00px;width:94.69px;height:47.00px;line-height:47.00px;font-size:30.56px;text-align:center">-</div>
<div class="t" style="left:1217.13px;top:1235.00px;width:94.69px;height:47.00px;line-height:47.00px;font-size:30.56px;text-align:center">-</div>
<div class="t" style="left:1315.82px;top:1235.00px;width:94.69px;height:47.00px;line-height:47.00px;font-size:30.56px;text-align:center">-</div>
<div class="t" style="left:1414.51px;top:1235.00px;width:94.69px;height:47.00px;line-height:47.00px;font-size:30.56px;text-align:center">-</div>
<div class="t" style="left:1611.89px;top:1235.00px;width:94.69px;height:47.00px;line-height:47.00px;font-size:30.56px;text-align:center">-</div>
<div class="t" style="left:1710.58px;top:1235.00px;width:94.69px;height:47.00px;line-height:47.00px;font-size:30.56px;text-align:center">-</div>
<div class="t" style="left:1809.27px;top:1235.00px;width:94.69px;height:47.00px;line-height:47.00px;font-size:30.56px;text-align:center">-</div>
<div class="t" style="left:2006.65px;top:1235.00px;width:94.69px;height:47.00px;line-height:47.00px;font-size:30.56px;text-align:center">-</div>
<div class="t" style="left:129.30px;top:1286.00px;width:400.00px;height:47.00px;line-height:47.00px;font-size:30.56px;text-align:left;letter-spacing:0.2px">BM</div>
<div class="t" style="left:329.80px;top:1286.00px;width:94.50px;height:47.00px;line-height:47.00px;font-size:30.56px;text-align:center"><svg viewBox="0 -1472 1139 1472" style="width:0.5562em;height:0.71875em;vertical-align:baseline;fill:currentColor"><path transform="scale(1,-1)" d="M723 0L543 0L543 1147Q478 1085 373 1023Q268 961 184 930L184 1104Q335 1175 448 1276Q561 1377 608 1472L723 1472Z"/></svg>0</div>
<div class="t" style="left:428.30px;top:1286.00px;width:94.00px;height:47.00px;line-height:47.00px;font-size:30.56px;text-align:center">H+a</div>
<div class="t" style="left:526.30px;top:1286.00px;width:94.69px;height:47.00px;line-height:47.00px;font-size:30.56px;text-align:center">3</div>
<div class="t" style="left:624.99px;top:1286.00px;width:94.69px;height:47.00px;line-height:47.00px;font-size:30.56px;text-align:center">-</div>
<div class="t" style="left:822.37px;top:1286.00px;width:94.69px;height:47.00px;line-height:47.00px;font-size:30.56px;text-align:center">-</div>
<div class="t" style="left:921.06px;top:1286.00px;width:94.69px;height:47.00px;line-height:47.00px;font-size:30.56px;text-align:center">-</div>
<div class="t" style="left:1019.75px;top:1286.00px;width:94.69px;height:47.00px;line-height:47.00px;font-size:30.56px;text-align:center">-</div>
<div class="t" style="left:1217.13px;top:1286.00px;width:94.69px;height:47.00px;line-height:47.00px;font-size:30.56px;text-align:center">-</div>
<div class="t" style="left:1315.82px;top:1286.00px;width:94.69px;height:47.00px;line-height:47.00px;font-size:30.56px;text-align:center">-</div>
<div class="t" style="left:1414.51px;top:1286.00px;width:94.69px;height:47.00px;line-height:47.00px;font-size:30.56px;text-align:center">-</div>
<div class="t" style="left:1611.89px;top:1286.00px;width:94.69px;height:47.00px;line-height:47.00px;font-size:30.56px;text-align:center">-</div>
<div class="t" style="left:1710.58px;top:1286.00px;width:94.69px;height:47.00px;line-height:47.00px;font-size:30.56px;text-align:center">-</div>
<div class="t" style="left:1809.27px;top:1286.00px;width:94.69px;height:47.00px;line-height:47.00px;font-size:30.56px;text-align:center">-</div>
<div class="t" style="left:2006.65px;top:1286.00px;width:94.69px;height:47.00px;line-height:47.00px;font-size:30.56px;text-align:center">-</div>
<div class="t" style="left:129.30px;top:1338.00px;width:400.00px;height:47.00px;line-height:47.00px;font-size:30.56px;text-align:left;font-weight:bold;letter-spacing:0.2px">HM (GT)</div>
<div class="t" style="left:526.30px;top:1338.00px;width:94.69px;height:47.00px;line-height:47.00px;font-size:30.56px;text-align:center;font-weight:bold">3</div>
<div class="t" style="left:624.99px;top:1338.00px;width:94.69px;height:47.00px;line-height:47.00px;font-size:30.56px;text-align:center;font-weight:bold">3</div>
<div class="t" style="left:723.68px;top:1338.00px;width:94.69px;height:47.00px;line-height:47.00px;font-size:30.56px;text-align:center">6</div>
<div class="t" style="left:822.37px;top:1338.00px;width:94.69px;height:47.00px;line-height:47.00px;font-size:30.56px;text-align:center;font-weight:bold">0</div>
<div class="t" style="left:921.06px;top:1338.00px;width:94.69px;height:47.00px;line-height:47.00px;font-size:30.56px;text-align:center;font-weight:bold">0</div>
<div class="t" style="left:1019.75px;top:1338.00px;width:94.69px;height:47.00px;line-height:47.00px;font-size:30.56px;text-align:center;font-weight:bold">0</div>
<div class="t" style="left:1118.44px;top:1338.00px;width:94.69px;height:47.00px;line-height:47.00px;font-size:30.56px;text-align:center">0</div>
<div class="t" style="left:1217.13px;top:1338.00px;width:94.69px;height:47.00px;line-height:47.00px;font-size:30.56px;text-align:center;font-weight:bold">0</div>
<div class="t" style="left:1315.82px;top:1338.00px;width:94.69px;height:47.00px;line-height:47.00px;font-size:30.56px;text-align:center;font-weight:bold">0</div>
<div class="t" style="left:1414.51px;top:1338.00px;width:94.69px;height:47.00px;line-height:47.00px;font-size:30.56px;text-align:center;font-weight:bold">0</div>
<div class="t" style="left:1513.20px;top:1338.00px;width:94.69px;height:47.00px;line-height:47.00px;font-size:30.56px;text-align:center">0</div>
<div class="t" style="left:1611.89px;top:1338.00px;width:94.69px;height:47.00px;line-height:47.00px;font-size:30.56px;text-align:center;font-weight:bold">0</div>
<div class="t" style="left:1710.58px;top:1338.00px;width:94.69px;height:47.00px;line-height:47.00px;font-size:30.56px;text-align:center;font-weight:bold">0</div>
<div class="t" style="left:1809.27px;top:1338.00px;width:94.69px;height:47.00px;line-height:47.00px;font-size:30.56px;text-align:center;font-weight:bold">0</div>
<div class="t" style="left:1907.96px;top:1338.00px;width:94.69px;height:47.00px;line-height:47.00px;font-size:30.56px;text-align:center">0</div>
<div class="t" style="left:2006.65px;top:1338.00px;width:94.69px;height:47.00px;line-height:47.00px;font-size:30.56px;text-align:center;font-weight:bold">0</div>
<div class="t" style="left:2105.34px;top:1338.00px;width:129.96px;height:47.00px;line-height:47.00px;font-size:30.56px;text-align:center;font-weight:bold">6</div>
<div class="t" style="left:129.30px;top:1389.00px;width:400.00px;height:47.00px;line-height:47.00px;font-size:30.56px;text-align:left;font-weight:bold;letter-spacing:0.2px">TM (GT)</div>
<div class="t" style="left:329.80px;top:1389.00px;width:94.50px;height:47.00px;line-height:47.00px;font-size:30.56px;text-align:center"><svg viewBox="0 -1472 1139 1472" style="width:0.5562em;height:0.71875em;vertical-align:baseline;fill:currentColor"><path transform="scale(1,-1)" d="M723 0L543 0L543 1147Q478 1085 373 1023Q268 961 184 930L184 1104Q335 1175 448 1276Q561 1377 608 1472L723 1472Z"/></svg><svg viewBox="0 -1472 1139 1472" style="width:0.5562em;height:0.71875em;vertical-align:baseline;fill:currentColor"><path transform="scale(1,-1)" d="M723 0L543 0L543 1147Q478 1085 373 1023Q268 961 184 930L184 1104Q335 1175 448 1276Q561 1377 608 1472L723 1472Z"/></svg></div>
<div class="t" style="left:428.30px;top:1389.00px;width:94.00px;height:47.00px;line-height:47.00px;font-size:30.56px;text-align:center">T+z</div>
<div class="t" style="left:526.30px;top:1389.00px;width:94.69px;height:47.00px;line-height:47.00px;font-size:30.56px;text-align:center;font-weight:bold">-</div>
<div class="t" style="left:624.99px;top:1389.00px;width:94.69px;height:47.00px;line-height:47.00px;font-size:30.56px;text-align:center;font-weight:bold">-</div>
<div class="t" style="left:723.68px;top:1389.00px;width:94.69px;height:47.00px;line-height:47.00px;font-size:30.56px;text-align:center">0</div>
<div class="t" style="left:822.37px;top:1389.00px;width:94.69px;height:47.00px;line-height:47.00px;font-size:30.56px;text-align:center;font-weight:bold">-</div>
<div class="t" style="left:921.06px;top:1389.00px;width:94.69px;height:47.00px;line-height:47.00px;font-size:30.56px;text-align:center;font-weight:bold">-</div>
<div class="t" style="left:1019.75px;top:1389.00px;width:94.69px;height:47.00px;line-height:47.00px;font-size:30.56px;text-align:center;font-weight:bold">-</div>
<div class="t" style="left:1118.44px;top:1389.00px;width:94.69px;height:47.00px;line-height:47.00px;font-size:30.56px;text-align:center">0</div>
<div class="t" style="left:1217.13px;top:1389.00px;width:94.69px;height:47.00px;line-height:47.00px;font-size:30.56px;text-align:center;font-weight:bold">-</div>
<div class="t" style="left:1315.82px;top:1389.00px;width:94.69px;height:47.00px;line-height:47.00px;font-size:30.56px;text-align:center;font-weight:bold">-</div>
<div class="t" style="left:1414.51px;top:1389.00px;width:94.69px;height:47.00px;line-height:47.00px;font-size:30.56px;text-align:center;font-weight:bold">-</div>
<div class="t" style="left:1513.20px;top:1389.00px;width:94.69px;height:47.00px;line-height:47.00px;font-size:30.56px;text-align:center">0</div>
<div class="t" style="left:1611.89px;top:1389.00px;width:94.69px;height:47.00px;line-height:47.00px;font-size:30.56px;text-align:center;font-weight:bold">-</div>
<div class="t" style="left:1710.58px;top:1389.00px;width:94.69px;height:47.00px;line-height:47.00px;font-size:30.56px;text-align:center;font-weight:bold">-</div>
<div class="t" style="left:1809.27px;top:1389.00px;width:94.69px;height:47.00px;line-height:47.00px;font-size:30.56px;text-align:center;font-weight:bold">-</div>
<div class="t" style="left:1907.96px;top:1389.00px;width:94.69px;height:47.00px;line-height:47.00px;font-size:30.56px;text-align:center">0</div>
<div class="t" style="left:2006.65px;top:1389.00px;width:94.69px;height:47.00px;line-height:47.00px;font-size:30.56px;text-align:center;font-weight:bold">-</div>
<div class="t" style="left:2105.34px;top:1389.00px;width:129.96px;height:47.00px;line-height:47.00px;font-size:30.56px;text-align:center;font-weight:bold">0</div>
<div class="t" style="left:129.30px;top:1439.00px;width:400.00px;height:50.00px;line-height:50.00px;font-size:30.56px;text-align:left;letter-spacing:0.2px">gemischte Zirkulation</div>
<div class="t" style="left:526.30px;top:1439.00px;width:94.69px;height:50.00px;line-height:50.00px;font-size:30.56px;text-align:center"><svg viewBox="0 -1472 1139 1472" style="width:0.5562em;height:0.71875em;vertical-align:baseline;fill:currentColor"><path transform="scale(1,-1)" d="M723 0L543 0L543 1147Q478 1085 373 1023Q268 961 184 930L184 1104Q335 1175 448 1276Q561 1377 608 1472L723 1472Z"/></svg><svg viewBox="0 -1472 1139 1472" style="width:0.5562em;height:0.71875em;vertical-align:baseline;fill:currentColor"><path transform="scale(1,-1)" d="M723 0L543 0L543 1147Q478 1085 373 1023Q268 961 184 930L184 1104Q335 1175 448 1276Q561 1377 608 1472L723 1472Z"/></svg></div>
<div class="t" style="left:624.99px;top:1439.00px;width:94.69px;height:50.00px;line-height:50.00px;font-size:30.56px;text-align:center"><svg viewBox="0 -1472 1139 1472" style="width:0.5562em;height:0.71875em;vertical-align:baseline;fill:currentColor"><path transform="scale(1,-1)" d="M723 0L543 0L543 1147Q478 1085 373 1023Q268 961 184 930L184 1104Q335 1175 448 1276Q561 1377 608 1472L723 1472Z"/></svg>3</div>
<div class="t" style="left:723.68px;top:1439.00px;width:94.69px;height:50.00px;line-height:50.00px;font-size:30.56px;text-align:center;font-weight:bold;color:#9C3A06">24</div>
<div class="t" style="left:822.37px;top:1439.00px;width:94.69px;height:50.00px;line-height:50.00px;font-size:30.56px;text-align:center">0</div>
<div class="t" style="left:921.06px;top:1439.00px;width:94.69px;height:50.00px;line-height:50.00px;font-size:30.56px;text-align:center">0</div>
<div class="t" style="left:1019.75px;top:1439.00px;width:94.69px;height:50.00px;line-height:50.00px;font-size:30.56px;text-align:center">0</div>
<div class="t" style="left:1118.44px;top:1439.00px;width:94.69px;height:50.00px;line-height:50.00px;font-size:30.56px;text-align:center;font-weight:bold;color:#9C3A06">0</div>
<div class="t" style="left:1217.13px;top:1439.00px;width:94.69px;height:50.00px;line-height:50.00px;font-size:30.56px;text-align:center">0</div>
<div class="t" style="left:1315.82px;top:1439.00px;width:94.69px;height:50.00px;line-height:50.00px;font-size:30.56px;text-align:center">0</div>
<div class="t" style="left:1414.51px;top:1439.00px;width:94.69px;height:50.00px;line-height:50.00px;font-size:30.56px;text-align:center">0</div>
<div class="t" style="left:1513.20px;top:1439.00px;width:94.69px;height:50.00px;line-height:50.00px;font-size:30.56px;text-align:center;font-weight:bold;color:#9C3A06">0</div>
<div class="t" style="left:1611.89px;top:1439.00px;width:94.69px;height:50.00px;line-height:50.00px;font-size:30.56px;text-align:center">0</div>
<div class="t" style="left:1710.58px;top:1439.00px;width:94.69px;height:50.00px;line-height:50.00px;font-size:30.56px;text-align:center">0</div>
<div class="t" style="left:1809.27px;top:1439.00px;width:94.69px;height:50.00px;line-height:50.00px;font-size:30.56px;text-align:center">0</div>
<div class="t" style="left:1907.96px;top:1439.00px;width:94.69px;height:50.00px;line-height:50.00px;font-size:30.56px;text-align:center;font-weight:bold;color:#9C3A06">0</div>
<div class="t" style="left:2006.65px;top:1439.00px;width:94.69px;height:50.00px;line-height:50.00px;font-size:30.56px;text-align:center">0</div>
<div class="t" style="left:2105.34px;top:1439.00px;width:129.96px;height:50.00px;line-height:50.00px;font-size:30.56px;text-align:center;font-weight:bold;color:#9C3A06">24</div>
<div class="t" style="left:80.50px;top:1553.86px;line-height:31.03px;font-size:27.78px;white-space:pre;transform-origin:0 25.14px;transform:scaleY(1.05)">Großwetterlage / Zirkulationen</div>
<div class="t" style="left:1120.70px;top:1553.86px;line-height:31.03px;font-size:27.78px;white-space:pre;transform-origin:0 25.14px;transform:scaleY(1.05)">Seite: 2</div>
<div class="t" style="left:1967.50px;top:1553.86px;line-height:31.03px;font-size:27.78px;white-space:pre;transform-origin:0 25.14px;transform:scaleY(1.05)">Deutscher Wetterdienst</div>
</div>
</body></html>
